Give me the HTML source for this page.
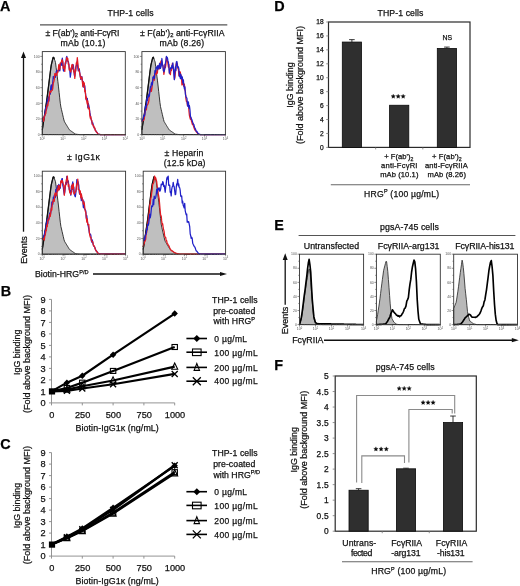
<!DOCTYPE html>
<html><head><meta charset="utf-8"><style>
html,body{margin:0;padding:0;background:#fff;width:520px;height:586px;overflow:hidden;}
svg{will-change:transform;}
svg text{font-family:"Liberation Sans", sans-serif;stroke:#111;stroke-width:0.25px;}
svg text.tiny{stroke:none;}
</style></head><body>
<svg width="520" height="586" viewBox="0 0 520 586" style="position:absolute;left:0;top:0">
<rect width="520" height="586" fill="#fff"/>
<text x="0.10" y="10.50" font-size="14.4" text-anchor="start" font-weight="bold" fill="#000" >A</text>
<text x="0.70" y="296.30" font-size="14.4" text-anchor="start" font-weight="bold" fill="#000" >B</text>
<text x="0.30" y="448.80" font-size="14.4" text-anchor="start" font-weight="bold" fill="#000" >C</text>
<text x="274.30" y="10.90" font-size="14.4" text-anchor="start" font-weight="bold" fill="#000" >D</text>
<text x="274.30" y="229.80" font-size="14.4" text-anchor="start" font-weight="bold" fill="#000" >E</text>
<text x="274.30" y="369.50" font-size="14.4" text-anchor="start" font-weight="bold" fill="#000" >F</text>
<text x="107.48" y="16.10" font-size="8.7" fill="#111" font-weight="normal" textLength="46.04" lengthAdjust="spacing">THP-1 cells</text>
<line x1="40.00" y1="24.80" x2="227.30" y2="24.80" stroke="#555" stroke-width="1.2" />
<text x="45.50" y="35.60" font-size="8.7" fill="#111" textLength="74.00" lengthAdjust="spacing">± F(ab')<tspan font-size="5.8" dy="1.4">2</tspan><tspan dy="-1.4"> anti-Fc&#947;RI</tspan></text>
<text x="140.00" y="35.60" font-size="8.7" fill="#111" textLength="84.50" lengthAdjust="spacing">± F(ab')<tspan font-size="5.8" dy="1.4">2</tspan><tspan dy="-1.4"> anti-Fc&#947;RIIA</tspan></text>
<text x="60.48" y="46.30" font-size="8.7" fill="#111" font-weight="normal" textLength="45.04" lengthAdjust="spacing">mAb (10.1)</text>
<text x="159.48" y="46.30" font-size="8.7" fill="#111" font-weight="normal" textLength="44.74" lengthAdjust="spacing">mAb (8.26)</text>
<text x="66.98" y="159.90" font-size="8.7" fill="#111" font-weight="normal" textLength="32.94" lengthAdjust="spacing">± IgG1&#954;</text>
<text x="164.48" y="155.80" font-size="8.7" fill="#111" font-weight="normal" textLength="38.84" lengthAdjust="spacing">± Heparin</text>
<text x="163.78" y="166.30" font-size="8.7" fill="#111" font-weight="normal" textLength="41.74" lengthAdjust="spacing">(12.5 kDa)</text>
<line x1="23.50" y1="57.60" x2="23.50" y2="231.70" stroke="#111" stroke-width="1.3" />
<path d="M21.00,58.10 L23.50,51.50 L26.00,58.10 Z" fill="#111"/>
<text transform="translate(26.80,249.90) rotate(-90)" font-size="9" text-anchor="middle" fill="#111">Events</text>
<text x="35.0" y="277" font-size="8.7" fill="#111" textLength="53.5" lengthAdjust="spacing">Biotin-HRG<tspan font-size="5.6" dy="-3.2">P/D</tspan></text>
<line x1="93.00" y1="274.00" x2="220.50" y2="274.00" stroke="#111" stroke-width="1.4" />
<path d="M220.00,271.90 L227.00,274.00 L220.00,276.10 Z" fill="#111"/>
<path d="M42.30,129.91 L42.90,125.93 L43.50,121.95 L44.10,117.97 L44.70,114.00 L45.30,110.02 L45.90,106.04 L46.50,102.06 L47.10,97.66 L47.70,92.87 L48.30,88.09 L48.90,83.31 L49.50,78.52 L50.10,73.74 L50.70,68.96 L51.30,64.94 L51.90,62.43 L52.50,59.91 L53.10,57.40 L53.70,57.35 L54.30,58.94 L54.90,60.52 L55.50,62.56 L56.10,67.33 L56.70,72.10 L57.30,76.87 L57.90,81.64 L58.50,86.90 L59.10,92.37 L59.70,97.83 L60.30,103.30 L60.90,107.12 L61.50,109.69 L62.10,112.26 L62.70,114.83 L63.30,117.40 L63.90,119.97 L64.50,121.78 L65.10,122.77 L65.70,123.75 L66.30,124.74 L66.90,125.73 L67.50,126.71 L68.10,127.70 L68.70,128.69 L69.30,129.68 L69.90,130.23 L70.50,130.65 L71.10,131.06 L71.70,131.48 L72.30,131.90 L72.90,132.32 L73.50,132.74 L74.10,133.16 L74.70,133.57 L75.30,133.99 L75.90,134.18 L76.50,134.24 L77.10,134.31 L77.70,134.38 L78.30,134.45 L78.90,134.52 L79.50,134.58 L80.10,134.60 L80.70,134.60 L81.30,134.60 L81.90,134.60 L82.50,134.60 L83.10,134.60 L83.70,134.60 L84.30,134.60 L84.90,134.60 L85.50,134.60 L86.10,134.60 L86.70,134.60 L87.30,134.60 L87.90,134.60 L88.50,134.60 L89.10,134.60 L89.70,134.60 L90.30,134.60 L90.90,134.60 L91.50,134.60 L92.10,134.60 L92.70,134.60 L93.30,134.60 L93.90,134.60 L94.50,134.60 L95.10,134.60 L95.70,134.60 L96.30,134.60 L96.90,134.60 L97.50,134.60 L98.10,134.60 L98.70,134.60 L99.30,134.60 L99.90,134.60 L100.50,134.60 L101.10,134.60 L101.70,134.60 L102.30,134.60 L102.90,134.60 L103.50,134.60 L104.10,134.60 L104.70,134.60 L105.30,134.60 L105.90,134.60 L106.50,134.60 L107.10,134.60 L107.70,134.60 L108.30,134.60 L108.90,134.60 L109.50,134.60 L110.10,134.60 L110.70,134.60 L111.30,134.60 L111.90,134.60 L112.50,134.60 L113.10,134.60 L113.70,134.60 L114.30,134.60 L114.90,134.60 L115.50,134.60 L116.10,134.60 L116.70,134.60 L117.30,134.60 L117.90,134.60 L118.50,134.60 L119.10,134.60 L119.70,134.60 L120.30,134.60 L120.90,134.60 L121.50,134.60 L122.10,134.60 L122.70,134.60 L123.30,134.60 L123.90,134.60 L124.50,134.60 L125.10,134.60 L125.30,134.60 L42.30,134.60 Z" fill="#bfbfbf" stroke="#222" stroke-width="0.9"/>
<path d="M42.30,129.91 L42.90,125.93 L43.50,121.95 L44.10,117.97 L44.70,114.00 L45.30,110.02 L45.90,106.04 L46.50,102.06 L47.10,97.66 L47.70,92.87 L48.30,88.09 L48.90,83.31 L49.50,78.52 L50.10,73.74 L50.70,68.96 L51.30,64.94 L51.90,62.43 L52.50,59.91 L53.10,57.40 L53.70,57.35 L54.30,58.94" fill="none" stroke="#111" stroke-width="1.3" stroke-linejoin="round"/>
<path d="M42.30,122.07 L42.80,118.11 L43.30,117.56 L43.80,119.18 L44.30,116.58 L44.80,114.43 L45.30,110.66 L45.80,107.08 L46.30,110.02 L46.80,108.11 L47.30,99.95 L47.80,101.35 L48.30,97.02 L48.80,101.21 L49.30,95.99 L49.80,92.08 L50.30,94.18 L50.80,86.59 L51.30,84.87 L51.80,89.61 L52.30,87.58 L52.80,81.48 L53.30,76.30 L53.80,78.60 L54.30,78.54 L54.80,75.65 L55.30,77.44 L55.80,74.65 L56.30,71.67 L56.80,70.29 L57.30,71.85 L57.80,71.37 L58.30,70.97 L58.80,68.59 L59.30,69.42 L59.80,70.94 L60.30,63.50 L60.80,64.63 L61.30,62.90 L61.80,65.40 L62.30,58.03 L62.80,61.71 L63.30,70.15 L63.80,71.15 L64.30,69.82 L64.80,67.10 L65.30,62.54 L65.80,63.77 L66.30,57.78 L66.80,56.40 L67.30,60.85 L67.80,61.10 L68.30,61.26 L68.80,63.97 L69.30,68.99 L69.80,70.69 L70.30,77.14 L70.80,73.75 L71.30,67.64 L71.80,68.87 L72.30,68.99 L72.80,64.29 L73.30,65.31 L73.80,69.12 L74.30,75.06 L74.80,76.35 L75.30,72.51 L75.80,67.10 L76.30,65.82 L76.80,63.52 L77.30,61.25 L77.80,67.92 L78.30,70.88 L78.80,68.80 L79.30,68.88 L79.80,73.28 L80.30,76.19 L80.80,79.28 L81.30,78.47 L81.80,76.51 L82.30,79.96 L82.80,83.12 L83.30,81.51 L83.80,87.32 L84.30,86.02 L84.80,85.73 L85.30,91.80 L85.80,95.87 L86.30,99.86 L86.80,99.59 L87.30,98.31 L87.80,107.66 L88.30,103.49 L88.80,105.32 L89.30,107.98 L89.80,112.15 L90.30,114.91 L90.80,118.32 L91.30,119.55 L91.80,121.54 L92.30,124.24 L92.80,122.90 L93.30,125.08 L93.80,127.16 L94.30,127.55 L94.80,128.73 L95.30,130.05 L95.80,131.04 L96.30,131.50 L96.80,132.11 L97.30,132.87 L97.80,133.54 L98.30,134.14 L98.80,134.25 L99.30,134.36 L99.80,134.47 L100.30,134.58 L100.80,134.60 L101.30,134.60 L101.80,134.60 L102.30,134.60 L102.80,134.60 L103.30,134.60 L103.80,134.60 L104.30,134.60 L104.80,134.60 L105.30,134.60 L105.80,134.60 L106.30,134.60 L106.80,134.60 L107.30,134.60 L107.80,134.60 L108.30,134.60 L108.80,134.60 L109.30,134.60 L109.80,134.60 L110.30,134.60 L110.80,134.60 L111.30,134.60 L111.80,134.60 L112.30,134.60 L112.80,134.60 L113.30,134.60 L113.80,134.60 L114.30,134.60 L114.80,134.60 L115.30,134.60 L115.80,134.60 L116.30,134.60 L116.80,134.60 L117.30,134.60 L117.80,134.60 L118.30,134.60 L118.80,134.60 L119.30,134.60 L119.80,134.60 L120.30,134.60 L120.80,134.60 L121.30,134.60 L121.80,134.60 L122.30,134.60 L122.80,134.60 L123.30,134.60 L123.80,134.60 L124.30,134.60 L124.80,134.60 L125.30,134.60" fill="none" stroke="#2020c8" stroke-width="1.25" stroke-linejoin="round"/>
<path d="M42.30,118.60 L42.80,117.92 L43.30,121.31 L43.80,120.63 L44.30,116.34 L44.80,116.13 L45.30,113.92 L45.80,113.77 L46.30,109.29 L46.80,106.81 L47.30,104.58 L47.80,105.82 L48.30,101.94 L48.80,100.48 L49.30,96.15 L49.80,92.27 L50.30,90.87 L50.80,92.29 L51.30,91.19 L51.80,90.50 L52.30,90.25 L52.80,88.25 L53.30,82.76 L53.80,81.83 L54.30,79.28 L54.80,73.68 L55.30,75.26 L55.80,73.70 L56.30,74.95 L56.80,75.33 L57.30,71.77 L57.80,72.61 L58.30,69.06 L58.80,64.62 L59.30,66.52 L59.80,69.69 L60.30,63.06 L60.80,62.75 L61.30,62.17 L61.80,59.76 L62.30,59.82 L62.80,62.25 L63.30,68.33 L63.80,66.08 L64.30,67.94 L64.80,71.40 L65.30,63.97 L65.80,61.47 L66.30,60.66 L66.80,57.33 L67.30,59.39 L67.80,58.46 L68.30,64.24 L68.80,64.08 L69.30,70.17 L69.80,68.39 L70.30,70.38 L70.80,72.04 L71.30,69.44 L71.80,64.91 L72.30,64.69 L72.80,64.77 L73.30,69.07 L73.80,71.86 L74.30,72.52 L74.80,78.49 L75.30,69.39 L75.80,71.09 L76.30,62.76 L76.80,64.17 L77.30,57.59 L77.80,62.63 L78.30,67.28 L78.80,70.25 L79.30,71.48 L79.80,73.32 L80.30,76.83 L80.80,78.98 L81.30,78.39 L81.80,76.88 L82.30,81.11 L82.80,86.75 L83.30,81.82 L83.80,83.46 L84.30,82.94 L84.80,91.68 L85.30,90.50 L85.80,99.00 L86.30,96.86 L86.80,101.74 L87.30,104.02 L87.80,100.86 L88.30,108.79 L88.80,107.66 L89.30,108.21 L89.80,115.27 L90.30,118.14 L90.80,116.57 L91.30,120.17 L91.80,120.37 L92.30,124.33 L92.80,124.50 L93.30,126.20 L93.80,126.00 L94.30,128.44 L94.80,127.90 L95.30,130.52 L95.80,130.61 L96.30,131.97 L96.80,132.38 L97.30,132.87 L97.80,133.54 L98.30,134.14 L98.80,134.25 L99.30,134.36 L99.80,134.47 L100.30,134.58 L100.80,134.60 L101.30,134.60 L101.80,134.60 L102.30,134.60 L102.80,134.60 L103.30,134.60 L103.80,134.60 L104.30,134.60 L104.80,134.60 L105.30,134.60 L105.80,134.60 L106.30,134.60 L106.80,134.60 L107.30,134.60 L107.80,134.60 L108.30,134.60 L108.80,134.60 L109.30,134.60 L109.80,134.60 L110.30,134.60 L110.80,134.60 L111.30,134.60 L111.80,134.60 L112.30,134.60 L112.80,134.60 L113.30,134.60 L113.80,134.60 L114.30,134.60 L114.80,134.60 L115.30,134.60 L115.80,134.60 L116.30,134.60 L116.80,134.60 L117.30,134.60 L117.80,134.60 L118.30,134.60 L118.80,134.60 L119.30,134.60 L119.80,134.60 L120.30,134.60 L120.80,134.60 L121.30,134.60 L121.80,134.60 L122.30,134.60 L122.80,134.60 L123.30,134.60 L123.80,134.60 L124.30,134.60 L124.80,134.60 L125.30,134.60" fill="none" stroke="#e31b23" stroke-width="1.25" stroke-linejoin="round"/>
<rect x="42.30" y="51.60" width="83.00" height="83.00" fill="none" stroke="#333" stroke-width="0.9"/>
<line x1="40.30" y1="134.60" x2="42.30" y2="134.60" stroke="#444" stroke-width="0.6" />
<line x1="41.10" y1="126.78" x2="42.30" y2="126.78" stroke="#444" stroke-width="0.6" />
<line x1="40.30" y1="118.96" x2="42.30" y2="118.96" stroke="#444" stroke-width="0.6" />
<line x1="41.10" y1="111.14" x2="42.30" y2="111.14" stroke="#444" stroke-width="0.6" />
<line x1="40.30" y1="103.32" x2="42.30" y2="103.32" stroke="#444" stroke-width="0.6" />
<line x1="41.10" y1="95.50" x2="42.30" y2="95.50" stroke="#444" stroke-width="0.6" />
<line x1="40.30" y1="87.68" x2="42.30" y2="87.68" stroke="#444" stroke-width="0.6" />
<line x1="41.10" y1="79.86" x2="42.30" y2="79.86" stroke="#444" stroke-width="0.6" />
<line x1="40.30" y1="72.04" x2="42.30" y2="72.04" stroke="#444" stroke-width="0.6" />
<line x1="41.10" y1="64.22" x2="42.30" y2="64.22" stroke="#444" stroke-width="0.6" />
<line x1="40.30" y1="56.40" x2="42.30" y2="56.40" stroke="#444" stroke-width="0.6" />
<text x="39.70" y="135.80" font-size="3.5" text-anchor="end" font-weight="normal" fill="#555" class="tiny">0</text>
<text x="39.70" y="120.16" font-size="3.5" text-anchor="end" font-weight="normal" fill="#555" class="tiny">20</text>
<text x="39.70" y="104.52" font-size="3.5" text-anchor="end" font-weight="normal" fill="#555" class="tiny">40</text>
<text x="39.70" y="88.88" font-size="3.5" text-anchor="end" font-weight="normal" fill="#555" class="tiny">60</text>
<text x="39.70" y="73.24" font-size="3.5" text-anchor="end" font-weight="normal" fill="#555" class="tiny">80</text>
<text x="39.70" y="57.60" font-size="3.5" text-anchor="end" font-weight="normal" fill="#555" class="tiny">100</text>
<line x1="42.30" y1="134.60" x2="42.30" y2="136.60" stroke="#444" stroke-width="0.6" />
<line x1="48.55" y1="134.60" x2="48.55" y2="135.60" stroke="#aaa" stroke-width="0.4" />
<line x1="52.20" y1="134.60" x2="52.20" y2="135.60" stroke="#aaa" stroke-width="0.4" />
<line x1="54.79" y1="134.60" x2="54.79" y2="135.60" stroke="#aaa" stroke-width="0.4" />
<line x1="56.80" y1="134.60" x2="56.80" y2="135.60" stroke="#aaa" stroke-width="0.4" />
<line x1="58.45" y1="134.60" x2="58.45" y2="135.60" stroke="#aaa" stroke-width="0.4" />
<line x1="59.84" y1="134.60" x2="59.84" y2="135.60" stroke="#aaa" stroke-width="0.4" />
<line x1="61.04" y1="134.60" x2="61.04" y2="135.60" stroke="#aaa" stroke-width="0.4" />
<line x1="62.10" y1="134.60" x2="62.10" y2="135.60" stroke="#aaa" stroke-width="0.4" />
<text x="42.30" y="139.90" font-size="3.5" text-anchor="middle" fill="#555" class="tiny">10<tspan font-size="2.6" dy="-1.3">0</tspan></text>
<line x1="63.05" y1="134.60" x2="63.05" y2="136.60" stroke="#444" stroke-width="0.6" />
<line x1="69.30" y1="134.60" x2="69.30" y2="135.60" stroke="#aaa" stroke-width="0.4" />
<line x1="72.95" y1="134.60" x2="72.95" y2="135.60" stroke="#aaa" stroke-width="0.4" />
<line x1="75.54" y1="134.60" x2="75.54" y2="135.60" stroke="#aaa" stroke-width="0.4" />
<line x1="77.55" y1="134.60" x2="77.55" y2="135.60" stroke="#aaa" stroke-width="0.4" />
<line x1="79.20" y1="134.60" x2="79.20" y2="135.60" stroke="#aaa" stroke-width="0.4" />
<line x1="80.59" y1="134.60" x2="80.59" y2="135.60" stroke="#aaa" stroke-width="0.4" />
<line x1="81.79" y1="134.60" x2="81.79" y2="135.60" stroke="#aaa" stroke-width="0.4" />
<line x1="82.85" y1="134.60" x2="82.85" y2="135.60" stroke="#aaa" stroke-width="0.4" />
<text x="63.05" y="139.90" font-size="3.5" text-anchor="middle" fill="#555" class="tiny">10<tspan font-size="2.6" dy="-1.3">1</tspan></text>
<line x1="83.80" y1="134.60" x2="83.80" y2="136.60" stroke="#444" stroke-width="0.6" />
<line x1="90.05" y1="134.60" x2="90.05" y2="135.60" stroke="#aaa" stroke-width="0.4" />
<line x1="93.70" y1="134.60" x2="93.70" y2="135.60" stroke="#aaa" stroke-width="0.4" />
<line x1="96.29" y1="134.60" x2="96.29" y2="135.60" stroke="#aaa" stroke-width="0.4" />
<line x1="98.30" y1="134.60" x2="98.30" y2="135.60" stroke="#aaa" stroke-width="0.4" />
<line x1="99.95" y1="134.60" x2="99.95" y2="135.60" stroke="#aaa" stroke-width="0.4" />
<line x1="101.34" y1="134.60" x2="101.34" y2="135.60" stroke="#aaa" stroke-width="0.4" />
<line x1="102.54" y1="134.60" x2="102.54" y2="135.60" stroke="#aaa" stroke-width="0.4" />
<line x1="103.60" y1="134.60" x2="103.60" y2="135.60" stroke="#aaa" stroke-width="0.4" />
<text x="83.80" y="139.90" font-size="3.5" text-anchor="middle" fill="#555" class="tiny">10<tspan font-size="2.6" dy="-1.3">2</tspan></text>
<line x1="104.55" y1="134.60" x2="104.55" y2="136.60" stroke="#444" stroke-width="0.6" />
<line x1="110.80" y1="134.60" x2="110.80" y2="135.60" stroke="#aaa" stroke-width="0.4" />
<line x1="114.45" y1="134.60" x2="114.45" y2="135.60" stroke="#aaa" stroke-width="0.4" />
<line x1="117.04" y1="134.60" x2="117.04" y2="135.60" stroke="#aaa" stroke-width="0.4" />
<line x1="119.05" y1="134.60" x2="119.05" y2="135.60" stroke="#aaa" stroke-width="0.4" />
<line x1="120.70" y1="134.60" x2="120.70" y2="135.60" stroke="#aaa" stroke-width="0.4" />
<line x1="122.09" y1="134.60" x2="122.09" y2="135.60" stroke="#aaa" stroke-width="0.4" />
<line x1="123.29" y1="134.60" x2="123.29" y2="135.60" stroke="#aaa" stroke-width="0.4" />
<line x1="124.35" y1="134.60" x2="124.35" y2="135.60" stroke="#aaa" stroke-width="0.4" />
<text x="104.55" y="139.90" font-size="3.5" text-anchor="middle" fill="#555" class="tiny">10<tspan font-size="2.6" dy="-1.3">3</tspan></text>
<line x1="125.30" y1="134.60" x2="125.30" y2="136.60" stroke="#444" stroke-width="0.6" />
<text x="125.30" y="139.90" font-size="3.5" text-anchor="middle" fill="#555" class="tiny">10<tspan font-size="2.6" dy="-1.3">4</tspan></text>
<path d="M141.90,129.91 L142.50,125.95 L143.10,122.00 L143.70,118.05 L144.30,114.09 L144.90,110.14 L145.50,106.18 L146.10,102.23 L146.70,97.89 L147.30,93.13 L147.90,88.38 L148.50,83.62 L149.10,78.87 L149.70,74.11 L150.30,69.36 L150.90,65.16 L151.50,62.67 L152.10,60.17 L152.70,57.67 L153.30,57.17 L153.90,58.75 L154.50,60.32 L155.10,61.93 L155.70,66.67 L156.30,71.41 L156.90,76.15 L157.50,80.89 L158.10,86.02 L158.70,91.45 L159.30,96.88 L159.90,102.32 L160.50,106.65 L161.10,109.20 L161.70,111.75 L162.30,114.31 L162.90,116.86 L163.50,119.42 L164.10,121.56 L164.70,122.54 L165.30,123.52 L165.90,124.50 L166.50,125.49 L167.10,126.47 L167.70,127.45 L168.30,128.43 L168.90,129.41 L169.50,130.11 L170.10,130.53 L170.70,130.94 L171.30,131.36 L171.90,131.78 L172.50,132.19 L173.10,132.61 L173.70,133.02 L174.30,133.44 L174.90,133.85 L175.50,134.15 L176.10,134.22 L176.70,134.29 L177.30,134.36 L177.90,134.42 L178.50,134.49 L179.10,134.56 L179.70,134.60 L180.30,134.60 L180.90,134.60 L181.50,134.60 L182.10,134.60 L182.70,134.60 L183.30,134.60 L183.90,134.60 L184.50,134.60 L185.10,134.60 L185.70,134.60 L186.30,134.60 L186.90,134.60 L187.50,134.60 L188.10,134.60 L188.70,134.60 L189.30,134.60 L189.90,134.60 L190.50,134.60 L191.10,134.60 L191.70,134.60 L192.30,134.60 L192.90,134.60 L193.50,134.60 L194.10,134.60 L194.70,134.60 L195.30,134.60 L195.90,134.60 L196.50,134.60 L197.10,134.60 L197.70,134.60 L198.30,134.60 L198.90,134.60 L199.50,134.60 L200.10,134.60 L200.70,134.60 L201.30,134.60 L201.90,134.60 L202.50,134.60 L203.10,134.60 L203.70,134.60 L204.30,134.60 L204.90,134.60 L205.50,134.60 L206.10,134.60 L206.70,134.60 L207.30,134.60 L207.90,134.60 L208.50,134.60 L209.10,134.60 L209.70,134.60 L210.30,134.60 L210.90,134.60 L211.50,134.60 L212.10,134.60 L212.70,134.60 L213.30,134.60 L213.90,134.60 L214.50,134.60 L215.10,134.60 L215.70,134.60 L216.30,134.60 L216.90,134.60 L217.50,134.60 L218.10,134.60 L218.70,134.60 L219.30,134.60 L219.90,134.60 L220.50,134.60 L221.10,134.60 L221.70,134.60 L222.30,134.60 L222.90,134.60 L223.50,134.60 L224.10,134.60 L224.70,134.60 L225.30,134.60 L225.40,134.60 L141.90,134.60 Z" fill="#bfbfbf" stroke="#222" stroke-width="0.9"/>
<path d="M141.90,129.91 L142.50,125.95 L143.10,122.00 L143.70,118.05 L144.30,114.09 L144.90,110.14 L145.50,106.18 L146.10,102.23 L146.70,97.89 L147.30,93.13 L147.90,88.38 L148.50,83.62 L149.10,78.87 L149.70,74.11 L150.30,69.36 L150.90,65.16 L151.50,62.67 L152.10,60.17 L152.70,57.67 L153.30,57.17 L153.90,58.75" fill="none" stroke="#111" stroke-width="1.3" stroke-linejoin="round"/>
<path d="M141.90,121.64 L142.40,121.65 L142.90,119.75 L143.40,120.30 L143.90,120.18 L144.40,117.91 L144.90,112.55 L145.40,110.61 L145.90,108.24 L146.40,109.95 L146.90,105.07 L147.40,105.01 L147.90,104.08 L148.40,102.86 L148.90,100.27 L149.40,92.96 L149.90,91.98 L150.40,90.42 L150.90,88.63 L151.40,91.32 L151.90,88.35 L152.40,83.82 L152.90,80.94 L153.40,77.93 L153.90,75.67 L154.40,80.17 L154.90,74.83 L155.40,73.04 L155.90,73.06 L156.40,74.35 L156.90,70.76 L157.40,73.10 L157.90,65.87 L158.40,65.78 L158.90,67.64 L159.40,68.95 L159.90,63.17 L160.40,64.74 L160.90,61.26 L161.40,60.47 L161.90,62.07 L162.40,64.54 L162.90,65.74 L163.40,69.70 L163.90,74.46 L164.40,71.03 L164.90,64.28 L165.40,67.52 L165.90,64.71 L166.40,57.40 L166.90,60.29 L167.40,60.76 L167.90,63.71 L168.40,67.16 L168.90,64.38 L169.40,72.99 L169.90,73.63 L170.40,74.66 L170.90,69.54 L171.40,70.58 L171.90,68.20 L172.40,63.38 L172.90,66.97 L173.40,68.68 L173.90,69.54 L174.40,79.39 L174.90,77.31 L175.40,72.72 L175.90,65.25 L176.40,63.14 L176.90,62.82 L177.40,64.26 L177.90,68.51 L178.40,69.36 L178.90,75.64 L179.40,71.86 L179.90,71.65 L180.40,72.52 L180.90,75.81 L181.40,75.83 L181.90,84.98 L182.40,84.64 L182.90,80.24 L183.40,82.62 L183.90,86.37 L184.40,84.20 L184.90,89.85 L185.40,91.43 L185.90,98.65 L186.40,101.36 L186.90,101.29 L187.40,105.60 L187.90,105.58 L188.40,102.95 L188.90,110.40 L189.40,115.33 L189.90,117.59 L190.40,119.28 L190.90,117.67 L191.40,120.99 L191.90,122.61 L192.40,124.59 L192.90,123.13 L193.40,125.92 L193.90,127.53 L194.40,128.86 L194.90,129.85 L195.40,130.69 L195.90,130.92 L196.40,132.06 L196.90,132.43 L197.40,133.10 L197.90,133.76 L198.40,134.18 L198.90,134.29 L199.40,134.39 L199.90,134.50 L200.40,134.60 L200.90,134.60 L201.40,134.60 L201.90,134.60 L202.40,134.60 L202.90,134.60 L203.40,134.60 L203.90,134.60 L204.40,134.60 L204.90,134.60 L205.40,134.60 L205.90,134.60 L206.40,134.60 L206.90,134.60 L207.40,134.60 L207.90,134.60 L208.40,134.60 L208.90,134.60 L209.40,134.60 L209.90,134.60 L210.40,134.60 L210.90,134.60 L211.40,134.60 L211.90,134.60 L212.40,134.60 L212.90,134.60 L213.40,134.60 L213.90,134.60 L214.40,134.60 L214.90,134.60 L215.40,134.60 L215.90,134.60 L216.40,134.60 L216.90,134.60 L217.40,134.60 L217.90,134.60 L218.40,134.60 L218.90,134.60 L219.40,134.60 L219.90,134.60 L220.40,134.60 L220.90,134.60 L221.40,134.60 L221.90,134.60 L222.40,134.60 L222.90,134.60 L223.40,134.60 L223.90,134.60 L224.40,134.60 L224.90,134.60 L225.40,134.60" fill="none" stroke="#e31b23" stroke-width="1.25" stroke-linejoin="round"/>
<path d="M141.90,121.63 L142.40,119.39 L142.90,119.27 L143.40,117.19 L143.90,115.09 L144.40,116.16 L144.90,114.43 L145.40,105.93 L145.90,108.04 L146.40,105.92 L146.90,98.22 L147.40,100.59 L147.90,95.98 L148.40,97.06 L148.90,94.04 L149.40,96.12 L149.90,90.59 L150.40,86.72 L150.90,87.36 L151.40,83.60 L151.90,82.09 L152.40,84.79 L152.90,77.30 L153.40,76.65 L153.90,77.64 L154.40,78.47 L154.90,70.67 L155.40,72.46 L155.90,69.26 L156.40,67.23 L156.90,68.05 L157.40,65.96 L157.90,69.61 L158.40,65.96 L158.90,68.28 L159.40,63.97 L159.90,63.40 L160.40,68.46 L160.90,67.10 L161.40,65.41 L161.90,58.50 L162.40,64.37 L162.90,65.52 L163.40,70.72 L163.90,71.75 L164.40,70.40 L164.90,67.89 L165.40,63.28 L165.90,60.50 L166.40,56.40 L166.90,57.15 L167.40,57.67 L167.90,60.69 L168.40,62.09 L168.90,66.93 L169.40,73.24 L169.90,70.13 L170.40,68.70 L170.90,67.42 L171.40,68.29 L171.90,65.40 L172.40,67.57 L172.90,62.97 L173.40,68.56 L173.90,74.38 L174.40,79.68 L174.90,71.11 L175.40,66.77 L175.90,70.54 L176.40,61.70 L176.90,61.47 L177.40,65.67 L177.90,67.60 L178.40,66.94 L178.90,69.14 L179.40,76.66 L179.90,73.25 L180.40,78.74 L180.90,74.51 L181.40,78.96 L181.90,76.45 L182.40,77.45 L182.90,82.95 L183.40,79.98 L183.90,86.26 L184.40,88.97 L184.90,86.88 L185.40,94.45 L185.90,96.27 L186.40,97.75 L186.90,98.08 L187.40,103.54 L187.90,106.33 L188.40,101.78 L188.90,108.01 L189.40,105.59 L189.90,109.31 L190.40,115.62 L190.90,117.79 L191.40,118.90 L191.90,119.79 L192.40,121.44 L192.90,123.01 L193.40,124.22 L193.90,124.54 L194.40,126.83 L194.90,128.12 L195.40,128.76 L195.90,130.60 L196.40,131.31 L196.90,131.36 L197.40,132.43 L197.90,133.09 L198.40,133.76 L198.90,134.19 L199.40,134.33 L199.90,134.47 L200.40,134.60 L200.90,134.60 L201.40,134.60 L201.90,134.60 L202.40,134.60 L202.90,134.60 L203.40,134.60 L203.90,134.60 L204.40,134.60 L204.90,134.60 L205.40,134.60 L205.90,134.60 L206.40,134.60 L206.90,134.60 L207.40,134.60 L207.90,134.60 L208.40,134.60 L208.90,134.60 L209.40,134.60 L209.90,134.60 L210.40,134.60 L210.90,134.60 L211.40,134.60 L211.90,134.60 L212.40,134.60 L212.90,134.60 L213.40,134.60 L213.90,134.60 L214.40,134.60 L214.90,134.60 L215.40,134.60 L215.90,134.60 L216.40,134.60 L216.90,134.60 L217.40,134.60 L217.90,134.60 L218.40,134.60 L218.90,134.60 L219.40,134.60 L219.90,134.60 L220.40,134.60 L220.90,134.60 L221.40,134.60 L221.90,134.60 L222.40,134.60 L222.90,134.60 L223.40,134.60 L223.90,134.60 L224.40,134.60 L224.90,134.60 L225.40,134.60" fill="none" stroke="#2020c8" stroke-width="1.25" stroke-linejoin="round"/>
<rect x="141.90" y="51.60" width="83.50" height="83.00" fill="none" stroke="#333" stroke-width="0.9"/>
<line x1="139.90" y1="134.60" x2="141.90" y2="134.60" stroke="#444" stroke-width="0.6" />
<line x1="140.70" y1="126.78" x2="141.90" y2="126.78" stroke="#444" stroke-width="0.6" />
<line x1="139.90" y1="118.96" x2="141.90" y2="118.96" stroke="#444" stroke-width="0.6" />
<line x1="140.70" y1="111.14" x2="141.90" y2="111.14" stroke="#444" stroke-width="0.6" />
<line x1="139.90" y1="103.32" x2="141.90" y2="103.32" stroke="#444" stroke-width="0.6" />
<line x1="140.70" y1="95.50" x2="141.90" y2="95.50" stroke="#444" stroke-width="0.6" />
<line x1="139.90" y1="87.68" x2="141.90" y2="87.68" stroke="#444" stroke-width="0.6" />
<line x1="140.70" y1="79.86" x2="141.90" y2="79.86" stroke="#444" stroke-width="0.6" />
<line x1="139.90" y1="72.04" x2="141.90" y2="72.04" stroke="#444" stroke-width="0.6" />
<line x1="140.70" y1="64.22" x2="141.90" y2="64.22" stroke="#444" stroke-width="0.6" />
<line x1="139.90" y1="56.40" x2="141.90" y2="56.40" stroke="#444" stroke-width="0.6" />
<text x="139.30" y="135.80" font-size="3.5" text-anchor="end" font-weight="normal" fill="#555" class="tiny">0</text>
<text x="139.30" y="120.16" font-size="3.5" text-anchor="end" font-weight="normal" fill="#555" class="tiny">20</text>
<text x="139.30" y="104.52" font-size="3.5" text-anchor="end" font-weight="normal" fill="#555" class="tiny">40</text>
<text x="139.30" y="88.88" font-size="3.5" text-anchor="end" font-weight="normal" fill="#555" class="tiny">60</text>
<text x="139.30" y="73.24" font-size="3.5" text-anchor="end" font-weight="normal" fill="#555" class="tiny">80</text>
<text x="139.30" y="57.60" font-size="3.5" text-anchor="end" font-weight="normal" fill="#555" class="tiny">100</text>
<line x1="141.90" y1="134.60" x2="141.90" y2="136.60" stroke="#444" stroke-width="0.6" />
<line x1="148.18" y1="134.60" x2="148.18" y2="135.60" stroke="#aaa" stroke-width="0.4" />
<line x1="151.86" y1="134.60" x2="151.86" y2="135.60" stroke="#aaa" stroke-width="0.4" />
<line x1="154.47" y1="134.60" x2="154.47" y2="135.60" stroke="#aaa" stroke-width="0.4" />
<line x1="156.49" y1="134.60" x2="156.49" y2="135.60" stroke="#aaa" stroke-width="0.4" />
<line x1="158.14" y1="134.60" x2="158.14" y2="135.60" stroke="#aaa" stroke-width="0.4" />
<line x1="159.54" y1="134.60" x2="159.54" y2="135.60" stroke="#aaa" stroke-width="0.4" />
<line x1="160.75" y1="134.60" x2="160.75" y2="135.60" stroke="#aaa" stroke-width="0.4" />
<line x1="161.82" y1="134.60" x2="161.82" y2="135.60" stroke="#aaa" stroke-width="0.4" />
<text x="141.90" y="139.90" font-size="3.5" text-anchor="middle" fill="#555" class="tiny">10<tspan font-size="2.6" dy="-1.3">0</tspan></text>
<line x1="162.78" y1="134.60" x2="162.78" y2="136.60" stroke="#444" stroke-width="0.6" />
<line x1="169.06" y1="134.60" x2="169.06" y2="135.60" stroke="#aaa" stroke-width="0.4" />
<line x1="172.73" y1="134.60" x2="172.73" y2="135.60" stroke="#aaa" stroke-width="0.4" />
<line x1="175.34" y1="134.60" x2="175.34" y2="135.60" stroke="#aaa" stroke-width="0.4" />
<line x1="177.37" y1="134.60" x2="177.37" y2="135.60" stroke="#aaa" stroke-width="0.4" />
<line x1="179.02" y1="134.60" x2="179.02" y2="135.60" stroke="#aaa" stroke-width="0.4" />
<line x1="180.42" y1="134.60" x2="180.42" y2="135.60" stroke="#aaa" stroke-width="0.4" />
<line x1="181.63" y1="134.60" x2="181.63" y2="135.60" stroke="#aaa" stroke-width="0.4" />
<line x1="182.69" y1="134.60" x2="182.69" y2="135.60" stroke="#aaa" stroke-width="0.4" />
<text x="162.78" y="139.90" font-size="3.5" text-anchor="middle" fill="#555" class="tiny">10<tspan font-size="2.6" dy="-1.3">1</tspan></text>
<line x1="183.65" y1="134.60" x2="183.65" y2="136.60" stroke="#444" stroke-width="0.6" />
<line x1="189.93" y1="134.60" x2="189.93" y2="135.60" stroke="#aaa" stroke-width="0.4" />
<line x1="193.61" y1="134.60" x2="193.61" y2="135.60" stroke="#aaa" stroke-width="0.4" />
<line x1="196.22" y1="134.60" x2="196.22" y2="135.60" stroke="#aaa" stroke-width="0.4" />
<line x1="198.24" y1="134.60" x2="198.24" y2="135.60" stroke="#aaa" stroke-width="0.4" />
<line x1="199.89" y1="134.60" x2="199.89" y2="135.60" stroke="#aaa" stroke-width="0.4" />
<line x1="201.29" y1="134.60" x2="201.29" y2="135.60" stroke="#aaa" stroke-width="0.4" />
<line x1="202.50" y1="134.60" x2="202.50" y2="135.60" stroke="#aaa" stroke-width="0.4" />
<line x1="203.57" y1="134.60" x2="203.57" y2="135.60" stroke="#aaa" stroke-width="0.4" />
<text x="183.65" y="139.90" font-size="3.5" text-anchor="middle" fill="#555" class="tiny">10<tspan font-size="2.6" dy="-1.3">2</tspan></text>
<line x1="204.53" y1="134.60" x2="204.53" y2="136.60" stroke="#444" stroke-width="0.6" />
<line x1="210.81" y1="134.60" x2="210.81" y2="135.60" stroke="#aaa" stroke-width="0.4" />
<line x1="214.48" y1="134.60" x2="214.48" y2="135.60" stroke="#aaa" stroke-width="0.4" />
<line x1="217.09" y1="134.60" x2="217.09" y2="135.60" stroke="#aaa" stroke-width="0.4" />
<line x1="219.12" y1="134.60" x2="219.12" y2="135.60" stroke="#aaa" stroke-width="0.4" />
<line x1="220.77" y1="134.60" x2="220.77" y2="135.60" stroke="#aaa" stroke-width="0.4" />
<line x1="222.17" y1="134.60" x2="222.17" y2="135.60" stroke="#aaa" stroke-width="0.4" />
<line x1="223.38" y1="134.60" x2="223.38" y2="135.60" stroke="#aaa" stroke-width="0.4" />
<line x1="224.44" y1="134.60" x2="224.44" y2="135.60" stroke="#aaa" stroke-width="0.4" />
<text x="204.53" y="139.90" font-size="3.5" text-anchor="middle" fill="#555" class="tiny">10<tspan font-size="2.6" dy="-1.3">3</tspan></text>
<line x1="225.40" y1="134.60" x2="225.40" y2="136.60" stroke="#444" stroke-width="0.6" />
<text x="225.40" y="139.90" font-size="3.5" text-anchor="middle" fill="#555" class="tiny">10<tspan font-size="2.6" dy="-1.3">4</tspan></text>
<path d="M42.30,249.51 L42.90,245.54 L43.50,241.58 L44.10,237.62 L44.70,233.65 L45.30,229.69 L45.90,225.73 L46.50,221.76 L47.10,217.39 L47.70,212.63 L48.30,207.86 L48.90,203.10 L49.50,198.33 L50.10,193.56 L50.70,188.80 L51.30,184.67 L51.90,182.17 L52.50,179.67 L53.10,177.16 L53.70,176.84 L54.30,178.42 L54.90,180.00 L55.50,181.78 L56.10,186.53 L56.70,191.28 L57.30,196.04 L57.90,200.79 L58.50,205.97 L59.10,211.42 L59.70,216.86 L60.30,222.31 L60.90,226.44 L61.50,229.00 L62.10,231.56 L62.70,234.12 L63.30,236.68 L63.90,239.24 L64.50,241.25 L65.10,242.23 L65.70,243.22 L66.30,244.20 L66.90,245.18 L67.50,246.17 L68.10,247.15 L68.70,248.13 L69.30,249.12 L69.90,249.76 L70.50,250.18 L71.10,250.59 L71.70,251.01 L72.30,251.43 L72.90,251.84 L73.50,252.26 L74.10,252.68 L74.70,253.09 L75.30,253.51 L75.90,253.76 L76.50,253.83 L77.10,253.90 L77.70,253.97 L78.30,254.03 L78.90,254.10 L79.50,254.17 L80.10,254.20 L80.70,254.20 L81.30,254.20 L81.90,254.20 L82.50,254.20 L83.10,254.20 L83.70,254.20 L84.30,254.20 L84.90,254.20 L85.50,254.20 L86.10,254.20 L86.70,254.20 L87.30,254.20 L87.90,254.20 L88.50,254.20 L89.10,254.20 L89.70,254.20 L90.30,254.20 L90.90,254.20 L91.50,254.20 L92.10,254.20 L92.70,254.20 L93.30,254.20 L93.90,254.20 L94.50,254.20 L95.10,254.20 L95.70,254.20 L96.30,254.20 L96.90,254.20 L97.50,254.20 L98.10,254.20 L98.70,254.20 L99.30,254.20 L99.90,254.20 L100.50,254.20 L101.10,254.20 L101.70,254.20 L102.30,254.20 L102.90,254.20 L103.50,254.20 L104.10,254.20 L104.70,254.20 L105.30,254.20 L105.90,254.20 L106.50,254.20 L107.10,254.20 L107.70,254.20 L108.30,254.20 L108.90,254.20 L109.50,254.20 L110.10,254.20 L110.70,254.20 L111.30,254.20 L111.90,254.20 L112.50,254.20 L113.10,254.20 L113.70,254.20 L114.30,254.20 L114.90,254.20 L115.50,254.20 L116.10,254.20 L116.70,254.20 L117.30,254.20 L117.90,254.20 L118.50,254.20 L119.10,254.20 L119.70,254.20 L120.30,254.20 L120.90,254.20 L121.50,254.20 L122.10,254.20 L122.70,254.20 L123.30,254.20 L123.90,254.20 L124.50,254.20 L125.10,254.20 L125.60,254.20 L42.30,254.20 Z" fill="#bfbfbf" stroke="#222" stroke-width="0.9"/>
<path d="M42.30,249.51 L42.90,245.54 L43.50,241.58 L44.10,237.62 L44.70,233.65 L45.30,229.69 L45.90,225.73 L46.50,221.76 L47.10,217.39 L47.70,212.63 L48.30,207.86 L48.90,203.10 L49.50,198.33 L50.10,193.56 L50.70,188.80 L51.30,184.67 L51.90,182.17 L52.50,179.67 L53.10,177.16 L53.70,176.84 L54.30,178.42" fill="none" stroke="#111" stroke-width="1.3" stroke-linejoin="round"/>
<path d="M42.30,239.61 L42.80,238.19 L43.30,237.02 L43.80,235.36 L44.30,234.89 L44.80,231.18 L45.30,234.58 L45.80,229.19 L46.30,223.05 L46.80,222.93 L47.30,219.11 L47.80,223.52 L48.30,218.99 L48.80,218.98 L49.30,214.91 L49.80,212.93 L50.30,215.57 L50.80,212.02 L51.30,209.47 L51.80,202.43 L52.30,201.54 L52.80,204.22 L53.30,197.18 L53.80,200.26 L54.30,195.12 L54.80,197.67 L55.30,197.37 L55.80,189.29 L56.30,193.19 L56.80,192.13 L57.30,185.64 L57.80,186.01 L58.30,190.07 L58.80,184.32 L59.30,187.13 L59.80,185.54 L60.30,188.18 L60.80,181.36 L61.30,182.26 L61.80,179.04 L62.30,178.55 L62.80,185.30 L63.30,187.47 L63.80,191.65 L64.30,194.36 L64.80,192.20 L65.30,187.57 L65.80,182.42 L66.30,184.33 L66.80,176.26 L67.30,179.74 L67.80,182.41 L68.30,180.90 L68.80,185.98 L69.30,189.61 L69.80,190.67 L70.30,191.27 L70.80,195.16 L71.30,186.22 L71.80,191.91 L72.30,184.46 L72.80,181.96 L73.30,189.46 L73.80,187.02 L74.30,193.90 L74.80,195.63 L75.30,196.80 L75.80,193.22 L76.30,188.88 L76.80,179.54 L77.30,182.37 L77.80,181.06 L78.30,182.76 L78.80,185.72 L79.30,193.12 L79.80,194.38 L80.30,194.39 L80.80,193.77 L81.30,200.64 L81.80,197.43 L82.30,198.83 L82.80,199.95 L83.30,207.28 L83.80,201.07 L84.30,208.65 L84.80,209.15 L85.30,210.17 L85.80,210.90 L86.30,218.30 L86.80,215.64 L87.30,220.51 L87.80,224.24 L88.30,226.11 L88.80,229.11 L89.30,232.50 L89.80,234.58 L90.30,234.09 L90.80,235.03 L91.30,240.48 L91.80,242.21 L92.30,239.93 L92.80,243.04 L93.30,244.73 L93.80,246.28 L94.30,246.52 L94.80,247.25 L95.30,249.08 L95.80,250.24 L96.30,251.32 L96.80,251.21 L97.30,252.21 L97.80,252.87 L98.30,253.54 L98.80,253.81 L99.30,253.92 L99.80,254.02 L100.30,254.13 L100.80,254.20 L101.30,254.20 L101.80,254.20 L102.30,254.20 L102.80,254.20 L103.30,254.20 L103.80,254.20 L104.30,254.20 L104.80,254.20 L105.30,254.20 L105.80,254.20 L106.30,254.20 L106.80,254.20 L107.30,254.20 L107.80,254.20 L108.30,254.20 L108.80,254.20 L109.30,254.20 L109.80,254.20 L110.30,254.20 L110.80,254.20 L111.30,254.20 L111.80,254.20 L112.30,254.20 L112.80,254.20 L113.30,254.20 L113.80,254.20 L114.30,254.20 L114.80,254.20 L115.30,254.20 L115.80,254.20 L116.30,254.20 L116.80,254.20 L117.30,254.20 L117.80,254.20 L118.30,254.20 L118.80,254.20 L119.30,254.20 L119.80,254.20 L120.30,254.20 L120.80,254.20 L121.30,254.20 L121.80,254.20 L122.30,254.20 L122.80,254.20 L123.30,254.20 L123.80,254.20 L124.30,254.20 L124.80,254.20 L125.30,254.20" fill="none" stroke="#2020c8" stroke-width="1.25" stroke-linejoin="round"/>
<path d="M42.30,238.89 L42.80,238.08 L43.30,238.94 L43.80,239.39 L44.30,240.11 L44.80,236.15 L45.30,234.75 L45.80,230.44 L46.30,230.67 L46.80,225.21 L47.30,226.68 L47.80,220.46 L48.30,219.28 L48.80,220.00 L49.30,217.28 L49.80,214.41 L50.30,216.49 L50.80,211.92 L51.30,208.10 L51.80,210.26 L52.30,203.99 L52.80,202.85 L53.30,199.55 L53.80,201.47 L54.30,201.31 L54.80,194.11 L55.30,192.80 L55.80,194.33 L56.30,195.80 L56.80,193.71 L57.30,189.01 L57.80,191.08 L58.30,185.29 L58.80,187.50 L59.30,189.90 L59.80,185.72 L60.30,186.97 L60.80,181.43 L61.30,180.55 L61.80,182.58 L62.30,180.50 L62.80,182.18 L63.30,183.99 L63.80,185.31 L64.30,195.28 L64.80,189.89 L65.30,185.22 L65.80,184.76 L66.30,179.75 L66.80,180.86 L67.30,176.00 L67.80,180.73 L68.30,186.38 L68.80,184.55 L69.30,189.64 L69.80,192.89 L70.30,192.99 L70.80,194.53 L71.30,192.21 L71.80,185.32 L72.30,184.87 L72.80,188.47 L73.30,183.52 L73.80,193.05 L74.30,194.16 L74.80,193.08 L75.30,192.02 L75.80,191.19 L76.30,187.35 L76.80,183.97 L77.30,182.91 L77.80,179.15 L78.30,189.61 L78.80,189.78 L79.30,189.98 L79.80,194.04 L80.30,190.82 L80.80,197.92 L81.30,193.83 L81.80,196.30 L82.30,199.82 L82.80,199.72 L83.30,204.07 L83.80,201.96 L84.30,203.13 L84.80,207.78 L85.30,211.26 L85.80,212.56 L86.30,217.76 L86.80,222.19 L87.30,218.93 L87.80,224.60 L88.30,224.77 L88.80,224.36 L89.30,231.80 L89.80,235.41 L90.30,237.32 L90.80,237.07 L91.30,239.56 L91.80,241.35 L92.30,241.93 L92.80,241.74 L93.30,245.18 L93.80,245.83 L94.30,245.89 L94.80,247.66 L95.30,249.37 L95.80,250.18 L96.30,250.90 L96.80,251.83 L97.30,252.21 L97.80,252.87 L98.30,253.54 L98.80,253.81 L99.30,253.92 L99.80,254.02 L100.30,254.13 L100.80,254.20 L101.30,254.20 L101.80,254.20 L102.30,254.20 L102.80,254.20 L103.30,254.20 L103.80,254.20 L104.30,254.20 L104.80,254.20 L105.30,254.20 L105.80,254.20 L106.30,254.20 L106.80,254.20 L107.30,254.20 L107.80,254.20 L108.30,254.20 L108.80,254.20 L109.30,254.20 L109.80,254.20 L110.30,254.20 L110.80,254.20 L111.30,254.20 L111.80,254.20 L112.30,254.20 L112.80,254.20 L113.30,254.20 L113.80,254.20 L114.30,254.20 L114.80,254.20 L115.30,254.20 L115.80,254.20 L116.30,254.20 L116.80,254.20 L117.30,254.20 L117.80,254.20 L118.30,254.20 L118.80,254.20 L119.30,254.20 L119.80,254.20 L120.30,254.20 L120.80,254.20 L121.30,254.20 L121.80,254.20 L122.30,254.20 L122.80,254.20 L123.30,254.20 L123.80,254.20 L124.30,254.20 L124.80,254.20 L125.30,254.20" fill="none" stroke="#e31b23" stroke-width="1.25" stroke-linejoin="round"/>
<rect x="42.30" y="171.20" width="83.30" height="83.00" fill="none" stroke="#333" stroke-width="0.9"/>
<line x1="40.30" y1="254.20" x2="42.30" y2="254.20" stroke="#444" stroke-width="0.6" />
<line x1="41.10" y1="246.38" x2="42.30" y2="246.38" stroke="#444" stroke-width="0.6" />
<line x1="40.30" y1="238.56" x2="42.30" y2="238.56" stroke="#444" stroke-width="0.6" />
<line x1="41.10" y1="230.74" x2="42.30" y2="230.74" stroke="#444" stroke-width="0.6" />
<line x1="40.30" y1="222.92" x2="42.30" y2="222.92" stroke="#444" stroke-width="0.6" />
<line x1="41.10" y1="215.10" x2="42.30" y2="215.10" stroke="#444" stroke-width="0.6" />
<line x1="40.30" y1="207.28" x2="42.30" y2="207.28" stroke="#444" stroke-width="0.6" />
<line x1="41.10" y1="199.46" x2="42.30" y2="199.46" stroke="#444" stroke-width="0.6" />
<line x1="40.30" y1="191.64" x2="42.30" y2="191.64" stroke="#444" stroke-width="0.6" />
<line x1="41.10" y1="183.82" x2="42.30" y2="183.82" stroke="#444" stroke-width="0.6" />
<line x1="40.30" y1="176.00" x2="42.30" y2="176.00" stroke="#444" stroke-width="0.6" />
<text x="39.70" y="255.40" font-size="3.5" text-anchor="end" font-weight="normal" fill="#555" class="tiny">0</text>
<text x="39.70" y="239.76" font-size="3.5" text-anchor="end" font-weight="normal" fill="#555" class="tiny">20</text>
<text x="39.70" y="224.12" font-size="3.5" text-anchor="end" font-weight="normal" fill="#555" class="tiny">40</text>
<text x="39.70" y="208.48" font-size="3.5" text-anchor="end" font-weight="normal" fill="#555" class="tiny">60</text>
<text x="39.70" y="192.84" font-size="3.5" text-anchor="end" font-weight="normal" fill="#555" class="tiny">80</text>
<text x="39.70" y="177.20" font-size="3.5" text-anchor="end" font-weight="normal" fill="#555" class="tiny">100</text>
<line x1="42.30" y1="254.20" x2="42.30" y2="256.20" stroke="#444" stroke-width="0.6" />
<line x1="48.57" y1="254.20" x2="48.57" y2="255.20" stroke="#aaa" stroke-width="0.4" />
<line x1="52.24" y1="254.20" x2="52.24" y2="255.20" stroke="#aaa" stroke-width="0.4" />
<line x1="54.84" y1="254.20" x2="54.84" y2="255.20" stroke="#aaa" stroke-width="0.4" />
<line x1="56.86" y1="254.20" x2="56.86" y2="255.20" stroke="#aaa" stroke-width="0.4" />
<line x1="58.50" y1="254.20" x2="58.50" y2="255.20" stroke="#aaa" stroke-width="0.4" />
<line x1="59.90" y1="254.20" x2="59.90" y2="255.20" stroke="#aaa" stroke-width="0.4" />
<line x1="61.11" y1="254.20" x2="61.11" y2="255.20" stroke="#aaa" stroke-width="0.4" />
<line x1="62.17" y1="254.20" x2="62.17" y2="255.20" stroke="#aaa" stroke-width="0.4" />
<text x="42.30" y="259.50" font-size="3.5" text-anchor="middle" fill="#555" class="tiny">10<tspan font-size="2.6" dy="-1.3">0</tspan></text>
<line x1="63.12" y1="254.20" x2="63.12" y2="256.20" stroke="#444" stroke-width="0.6" />
<line x1="69.39" y1="254.20" x2="69.39" y2="255.20" stroke="#aaa" stroke-width="0.4" />
<line x1="73.06" y1="254.20" x2="73.06" y2="255.20" stroke="#aaa" stroke-width="0.4" />
<line x1="75.66" y1="254.20" x2="75.66" y2="255.20" stroke="#aaa" stroke-width="0.4" />
<line x1="77.68" y1="254.20" x2="77.68" y2="255.20" stroke="#aaa" stroke-width="0.4" />
<line x1="79.33" y1="254.20" x2="79.33" y2="255.20" stroke="#aaa" stroke-width="0.4" />
<line x1="80.72" y1="254.20" x2="80.72" y2="255.20" stroke="#aaa" stroke-width="0.4" />
<line x1="81.93" y1="254.20" x2="81.93" y2="255.20" stroke="#aaa" stroke-width="0.4" />
<line x1="83.00" y1="254.20" x2="83.00" y2="255.20" stroke="#aaa" stroke-width="0.4" />
<text x="63.12" y="259.50" font-size="3.5" text-anchor="middle" fill="#555" class="tiny">10<tspan font-size="2.6" dy="-1.3">1</tspan></text>
<line x1="83.95" y1="254.20" x2="83.95" y2="256.20" stroke="#444" stroke-width="0.6" />
<line x1="90.22" y1="254.20" x2="90.22" y2="255.20" stroke="#aaa" stroke-width="0.4" />
<line x1="93.89" y1="254.20" x2="93.89" y2="255.20" stroke="#aaa" stroke-width="0.4" />
<line x1="96.49" y1="254.20" x2="96.49" y2="255.20" stroke="#aaa" stroke-width="0.4" />
<line x1="98.51" y1="254.20" x2="98.51" y2="255.20" stroke="#aaa" stroke-width="0.4" />
<line x1="100.15" y1="254.20" x2="100.15" y2="255.20" stroke="#aaa" stroke-width="0.4" />
<line x1="101.55" y1="254.20" x2="101.55" y2="255.20" stroke="#aaa" stroke-width="0.4" />
<line x1="102.76" y1="254.20" x2="102.76" y2="255.20" stroke="#aaa" stroke-width="0.4" />
<line x1="103.82" y1="254.20" x2="103.82" y2="255.20" stroke="#aaa" stroke-width="0.4" />
<text x="83.95" y="259.50" font-size="3.5" text-anchor="middle" fill="#555" class="tiny">10<tspan font-size="2.6" dy="-1.3">2</tspan></text>
<line x1="104.77" y1="254.20" x2="104.77" y2="256.20" stroke="#444" stroke-width="0.6" />
<line x1="111.04" y1="254.20" x2="111.04" y2="255.20" stroke="#aaa" stroke-width="0.4" />
<line x1="114.71" y1="254.20" x2="114.71" y2="255.20" stroke="#aaa" stroke-width="0.4" />
<line x1="117.31" y1="254.20" x2="117.31" y2="255.20" stroke="#aaa" stroke-width="0.4" />
<line x1="119.33" y1="254.20" x2="119.33" y2="255.20" stroke="#aaa" stroke-width="0.4" />
<line x1="120.98" y1="254.20" x2="120.98" y2="255.20" stroke="#aaa" stroke-width="0.4" />
<line x1="122.37" y1="254.20" x2="122.37" y2="255.20" stroke="#aaa" stroke-width="0.4" />
<line x1="123.58" y1="254.20" x2="123.58" y2="255.20" stroke="#aaa" stroke-width="0.4" />
<line x1="124.65" y1="254.20" x2="124.65" y2="255.20" stroke="#aaa" stroke-width="0.4" />
<text x="104.77" y="259.50" font-size="3.5" text-anchor="middle" fill="#555" class="tiny">10<tspan font-size="2.6" dy="-1.3">3</tspan></text>
<line x1="125.60" y1="254.20" x2="125.60" y2="256.20" stroke="#444" stroke-width="0.6" />
<text x="125.60" y="259.50" font-size="3.5" text-anchor="middle" fill="#555" class="tiny">10<tspan font-size="2.6" dy="-1.3">4</tspan></text>
<path d="M143.20,249.51 L143.80,245.50 L144.40,241.49 L145.00,237.49 L145.60,233.48 L146.20,229.47 L146.80,225.47 L147.40,221.46 L148.00,216.98 L148.60,212.16 L149.20,207.34 L149.80,202.52 L150.40,197.71 L151.00,192.89 L151.60,188.07 L152.20,184.26 L152.80,181.73 L153.40,179.20 L154.00,176.67 L154.60,177.17 L155.20,178.77 L155.80,180.36 L156.40,182.92 L157.00,187.73 L157.60,192.53 L158.20,197.34 L158.80,202.14 L159.40,207.58 L160.00,213.08 L160.60,218.59 L161.20,224.09 L161.80,227.30 L162.40,229.89 L163.00,232.48 L163.60,235.07 L164.20,237.66 L164.80,240.24 L165.40,241.65 L166.00,242.64 L166.60,243.63 L167.20,244.63 L167.80,245.62 L168.40,246.62 L169.00,247.61 L169.60,248.61 L170.20,249.55 L170.80,249.97 L171.40,250.39 L172.00,250.81 L172.60,251.23 L173.20,251.65 L173.80,252.07 L174.40,252.50 L175.00,252.92 L175.60,253.34 L176.20,253.74 L176.80,253.80 L177.40,253.87 L178.00,253.94 L178.60,254.01 L179.20,254.08 L179.80,254.15 L180.40,254.20 L181.00,254.20 L181.60,254.20 L182.20,254.20 L182.80,254.20 L183.40,254.20 L184.00,254.20 L184.60,254.20 L185.20,254.20 L185.80,254.20 L186.40,254.20 L187.00,254.20 L187.60,254.20 L188.20,254.20 L188.80,254.20 L189.40,254.20 L190.00,254.20 L190.60,254.20 L191.20,254.20 L191.80,254.20 L192.40,254.20 L193.00,254.20 L193.60,254.20 L194.20,254.20 L194.80,254.20 L195.40,254.20 L196.00,254.20 L196.60,254.20 L197.20,254.20 L197.80,254.20 L198.40,254.20 L199.00,254.20 L199.60,254.20 L200.20,254.20 L200.80,254.20 L201.40,254.20 L202.00,254.20 L202.60,254.20 L203.20,254.20 L203.80,254.20 L204.40,254.20 L205.00,254.20 L205.60,254.20 L206.20,254.20 L206.80,254.20 L207.40,254.20 L208.00,254.20 L208.60,254.20 L209.20,254.20 L209.80,254.20 L210.40,254.20 L211.00,254.20 L211.60,254.20 L212.20,254.20 L212.80,254.20 L213.40,254.20 L214.00,254.20 L214.60,254.20 L215.20,254.20 L215.80,254.20 L216.40,254.20 L217.00,254.20 L217.60,254.20 L218.20,254.20 L218.80,254.20 L219.40,254.20 L220.00,254.20 L220.60,254.20 L221.20,254.20 L221.80,254.20 L222.40,254.20 L223.00,254.20 L223.60,254.20 L224.20,254.20 L224.80,254.20 L225.40,254.20 L225.60,254.20 L143.20,254.20 Z" fill="#bfbfbf" stroke="#222" stroke-width="0.9"/>
<path d="M143.20,249.51 L143.80,245.50 L144.40,241.49 L145.00,237.49 L145.60,233.48 L146.20,229.47 L146.80,225.47 L147.40,221.46 L148.00,216.98 L148.60,212.16 L149.20,207.34 L149.80,202.52 L150.40,197.71 L151.00,192.89 L151.60,188.07 L152.20,184.26 L152.80,181.73 L153.40,179.20 L154.00,176.67 L154.60,177.17 L155.20,178.77" fill="none" stroke="#111" stroke-width="1.3" stroke-linejoin="round"/>
<path d="M143.20,246.76 L143.70,244.02 L144.20,243.96 L144.70,241.17 L145.20,241.11 L145.70,239.08 L146.20,233.02 L146.70,232.37 L147.20,226.91 L147.70,224.17 L148.20,220.60 L148.70,216.10 L149.20,212.78 L149.70,205.04 L150.20,203.77 L150.70,198.66 L151.20,196.82 L151.70,192.82 L152.20,189.31 L152.70,184.14 L153.20,183.86 L153.70,182.73 L154.20,179.68 L154.70,176.00 L155.20,179.15 L155.70,177.72 L156.20,180.05 L156.70,181.45 L157.20,186.61 L157.70,188.59 L158.20,193.13 L158.70,196.06 L159.20,198.95 L159.70,204.72 L160.20,211.05 L160.70,215.69 L161.20,215.82 L161.70,220.92 L162.20,224.79 L162.70,223.75 L163.20,227.97 L163.70,229.87 L164.20,231.89 L164.70,236.36 L165.20,237.51 L165.70,237.43 L166.20,240.86 L166.70,240.73 L167.20,243.59 L167.70,243.85 L168.20,244.96 L168.70,245.46 L169.20,246.49 L169.70,247.77 L170.20,248.91 L170.70,249.73 L171.20,250.24 L171.70,250.63 L172.20,251.24 L172.70,251.14 L173.20,251.70 L173.70,252.06 L174.20,252.41 L174.70,252.70 L175.20,252.88 L175.70,253.06 L176.20,253.24 L176.70,253.41 L177.20,253.59 L177.70,253.77 L178.20,253.87 L178.70,253.95 L179.20,254.03 L179.70,254.11 L180.20,254.19 L180.70,254.20 L181.20,254.20 L181.70,254.20 L182.20,254.20 L182.70,254.20 L183.20,254.20 L183.70,254.20 L184.20,254.20 L184.70,254.20 L185.20,254.20 L185.70,254.20 L186.20,254.20 L186.70,254.20 L187.20,254.20 L187.70,254.20 L188.20,254.20 L188.70,254.20 L189.20,254.20 L189.70,254.20 L190.20,254.20 L190.70,254.20 L191.20,254.20 L191.70,254.20 L192.20,254.20 L192.70,254.20 L193.20,254.20 L193.70,254.20 L194.20,254.20 L194.70,254.20 L195.20,254.20 L195.70,254.20 L196.20,254.20 L196.70,254.20 L197.20,254.20 L197.70,254.20 L198.20,254.20 L198.70,254.20 L199.20,254.20 L199.70,254.20 L200.20,254.20 L200.70,254.20 L201.20,254.20 L201.70,254.20 L202.20,254.20 L202.70,254.20 L203.20,254.20 L203.70,254.20 L204.20,254.20 L204.70,254.20 L205.20,254.20 L205.70,254.20 L206.20,254.20 L206.70,254.20 L207.20,254.20 L207.70,254.20 L208.20,254.20 L208.70,254.20 L209.20,254.20 L209.70,254.20 L210.20,254.20 L210.70,254.20 L211.20,254.20 L211.70,254.20 L212.20,254.20 L212.70,254.20 L213.20,254.20 L213.70,254.20 L214.20,254.20 L214.70,254.20 L215.20,254.20 L215.70,254.20 L216.20,254.20 L216.70,254.20 L217.20,254.20 L217.70,254.20 L218.20,254.20 L218.70,254.20 L219.20,254.20 L219.70,254.20 L220.20,254.20 L220.70,254.20 L221.20,254.20 L221.70,254.20 L222.20,254.20 L222.70,254.20 L223.20,254.20 L223.70,254.20 L224.20,254.20 L224.70,254.20 L225.20,254.20" fill="none" stroke="#e31b23" stroke-width="1.25" stroke-linejoin="round"/>
<path d="M143.20,240.87 L143.70,240.83 L144.20,237.68 L144.70,239.67 L145.20,235.89 L145.70,234.46 L146.20,234.24 L146.70,228.69 L147.20,229.92 L147.70,224.38 L148.20,225.41 L148.70,223.48 L149.20,219.11 L149.70,214.20 L150.20,217.93 L150.70,215.39 L151.20,210.46 L151.70,205.92 L152.20,206.73 L152.70,206.06 L153.20,199.45 L153.70,204.63 L154.20,196.20 L154.70,198.64 L155.20,198.48 L155.70,197.39 L156.20,194.61 L156.70,189.35 L157.20,193.02 L157.70,189.11 L158.20,188.16 L158.70,189.75 L159.20,187.88 L159.70,191.17 L160.20,190.70 L160.70,188.83 L161.20,184.05 L161.70,184.95 L162.20,184.77 L162.70,181.57 L163.20,182.60 L163.70,186.48 L164.20,185.30 L164.70,188.72 L165.20,192.25 L165.70,186.85 L166.20,184.42 L166.70,178.87 L167.20,177.19 L167.70,178.99 L168.20,176.06 L168.70,185.28 L169.20,185.42 L169.70,185.17 L170.20,192.28 L170.70,192.01 L171.20,195.98 L171.70,189.29 L172.20,186.75 L172.70,186.47 L173.20,182.33 L173.70,185.96 L174.20,186.59 L174.70,191.00 L175.20,194.72 L175.70,194.26 L176.20,187.93 L176.70,183.79 L177.20,184.15 L177.70,179.34 L178.20,185.77 L178.70,183.86 L179.20,187.37 L179.70,187.76 L180.20,190.47 L180.70,196.03 L181.20,196.59 L181.70,195.98 L182.20,202.84 L182.70,201.21 L183.20,205.25 L183.70,206.55 L184.20,207.91 L184.70,203.27 L185.20,210.55 L185.70,212.79 L186.20,214.83 L186.70,214.05 L187.20,222.16 L187.70,221.21 L188.20,222.35 L188.70,221.67 L189.20,224.10 L189.70,226.70 L190.20,233.80 L190.70,235.76 L191.20,238.29 L191.70,237.26 L192.20,238.55 L192.70,243.15 L193.20,244.34 L193.70,245.35 L194.20,246.41 L194.70,246.91 L195.20,247.86 L195.70,249.54 L196.20,250.89 L196.70,251.06 L197.20,251.76 L197.70,252.33 L198.20,253.01 L198.70,253.68 L199.20,253.83 L199.70,253.94 L200.20,254.05 L200.70,254.16 L201.20,254.20 L201.70,254.20 L202.20,254.20 L202.70,254.20 L203.20,254.20 L203.70,254.20 L204.20,254.20 L204.70,254.20 L205.20,254.20 L205.70,254.20 L206.20,254.20 L206.70,254.20 L207.20,254.20 L207.70,254.20 L208.20,254.20 L208.70,254.20 L209.20,254.20 L209.70,254.20 L210.20,254.20 L210.70,254.20 L211.20,254.20 L211.70,254.20 L212.20,254.20 L212.70,254.20 L213.20,254.20 L213.70,254.20 L214.20,254.20 L214.70,254.20 L215.20,254.20 L215.70,254.20 L216.20,254.20 L216.70,254.20 L217.20,254.20 L217.70,254.20 L218.20,254.20 L218.70,254.20 L219.20,254.20 L219.70,254.20 L220.20,254.20 L220.70,254.20 L221.20,254.20 L221.70,254.20 L222.20,254.20 L222.70,254.20 L223.20,254.20 L223.70,254.20 L224.20,254.20 L224.70,254.20 L225.20,254.20" fill="none" stroke="#2020c8" stroke-width="1.25" stroke-linejoin="round"/>
<rect x="143.20" y="171.20" width="82.40" height="83.00" fill="none" stroke="#333" stroke-width="0.9"/>
<line x1="141.20" y1="254.20" x2="143.20" y2="254.20" stroke="#444" stroke-width="0.6" />
<line x1="142.00" y1="246.38" x2="143.20" y2="246.38" stroke="#444" stroke-width="0.6" />
<line x1="141.20" y1="238.56" x2="143.20" y2="238.56" stroke="#444" stroke-width="0.6" />
<line x1="142.00" y1="230.74" x2="143.20" y2="230.74" stroke="#444" stroke-width="0.6" />
<line x1="141.20" y1="222.92" x2="143.20" y2="222.92" stroke="#444" stroke-width="0.6" />
<line x1="142.00" y1="215.10" x2="143.20" y2="215.10" stroke="#444" stroke-width="0.6" />
<line x1="141.20" y1="207.28" x2="143.20" y2="207.28" stroke="#444" stroke-width="0.6" />
<line x1="142.00" y1="199.46" x2="143.20" y2="199.46" stroke="#444" stroke-width="0.6" />
<line x1="141.20" y1="191.64" x2="143.20" y2="191.64" stroke="#444" stroke-width="0.6" />
<line x1="142.00" y1="183.82" x2="143.20" y2="183.82" stroke="#444" stroke-width="0.6" />
<line x1="141.20" y1="176.00" x2="143.20" y2="176.00" stroke="#444" stroke-width="0.6" />
<text x="140.60" y="255.40" font-size="3.5" text-anchor="end" font-weight="normal" fill="#555" class="tiny">0</text>
<text x="140.60" y="239.76" font-size="3.5" text-anchor="end" font-weight="normal" fill="#555" class="tiny">20</text>
<text x="140.60" y="224.12" font-size="3.5" text-anchor="end" font-weight="normal" fill="#555" class="tiny">40</text>
<text x="140.60" y="208.48" font-size="3.5" text-anchor="end" font-weight="normal" fill="#555" class="tiny">60</text>
<text x="140.60" y="192.84" font-size="3.5" text-anchor="end" font-weight="normal" fill="#555" class="tiny">80</text>
<text x="140.60" y="177.20" font-size="3.5" text-anchor="end" font-weight="normal" fill="#555" class="tiny">100</text>
<line x1="143.20" y1="254.20" x2="143.20" y2="256.20" stroke="#444" stroke-width="0.6" />
<line x1="149.40" y1="254.20" x2="149.40" y2="255.20" stroke="#aaa" stroke-width="0.4" />
<line x1="153.03" y1="254.20" x2="153.03" y2="255.20" stroke="#aaa" stroke-width="0.4" />
<line x1="155.60" y1="254.20" x2="155.60" y2="255.20" stroke="#aaa" stroke-width="0.4" />
<line x1="157.60" y1="254.20" x2="157.60" y2="255.20" stroke="#aaa" stroke-width="0.4" />
<line x1="159.23" y1="254.20" x2="159.23" y2="255.20" stroke="#aaa" stroke-width="0.4" />
<line x1="160.61" y1="254.20" x2="160.61" y2="255.20" stroke="#aaa" stroke-width="0.4" />
<line x1="161.80" y1="254.20" x2="161.80" y2="255.20" stroke="#aaa" stroke-width="0.4" />
<line x1="162.86" y1="254.20" x2="162.86" y2="255.20" stroke="#aaa" stroke-width="0.4" />
<text x="143.20" y="259.50" font-size="3.5" text-anchor="middle" fill="#555" class="tiny">10<tspan font-size="2.6" dy="-1.3">0</tspan></text>
<line x1="163.80" y1="254.20" x2="163.80" y2="256.20" stroke="#444" stroke-width="0.6" />
<line x1="170.00" y1="254.20" x2="170.00" y2="255.20" stroke="#aaa" stroke-width="0.4" />
<line x1="173.63" y1="254.20" x2="173.63" y2="255.20" stroke="#aaa" stroke-width="0.4" />
<line x1="176.20" y1="254.20" x2="176.20" y2="255.20" stroke="#aaa" stroke-width="0.4" />
<line x1="178.20" y1="254.20" x2="178.20" y2="255.20" stroke="#aaa" stroke-width="0.4" />
<line x1="179.83" y1="254.20" x2="179.83" y2="255.20" stroke="#aaa" stroke-width="0.4" />
<line x1="181.21" y1="254.20" x2="181.21" y2="255.20" stroke="#aaa" stroke-width="0.4" />
<line x1="182.40" y1="254.20" x2="182.40" y2="255.20" stroke="#aaa" stroke-width="0.4" />
<line x1="183.46" y1="254.20" x2="183.46" y2="255.20" stroke="#aaa" stroke-width="0.4" />
<text x="163.80" y="259.50" font-size="3.5" text-anchor="middle" fill="#555" class="tiny">10<tspan font-size="2.6" dy="-1.3">1</tspan></text>
<line x1="184.40" y1="254.20" x2="184.40" y2="256.20" stroke="#444" stroke-width="0.6" />
<line x1="190.60" y1="254.20" x2="190.60" y2="255.20" stroke="#aaa" stroke-width="0.4" />
<line x1="194.23" y1="254.20" x2="194.23" y2="255.20" stroke="#aaa" stroke-width="0.4" />
<line x1="196.80" y1="254.20" x2="196.80" y2="255.20" stroke="#aaa" stroke-width="0.4" />
<line x1="198.80" y1="254.20" x2="198.80" y2="255.20" stroke="#aaa" stroke-width="0.4" />
<line x1="200.43" y1="254.20" x2="200.43" y2="255.20" stroke="#aaa" stroke-width="0.4" />
<line x1="201.81" y1="254.20" x2="201.81" y2="255.20" stroke="#aaa" stroke-width="0.4" />
<line x1="203.00" y1="254.20" x2="203.00" y2="255.20" stroke="#aaa" stroke-width="0.4" />
<line x1="204.06" y1="254.20" x2="204.06" y2="255.20" stroke="#aaa" stroke-width="0.4" />
<text x="184.40" y="259.50" font-size="3.5" text-anchor="middle" fill="#555" class="tiny">10<tspan font-size="2.6" dy="-1.3">2</tspan></text>
<line x1="205.00" y1="254.20" x2="205.00" y2="256.20" stroke="#444" stroke-width="0.6" />
<line x1="211.20" y1="254.20" x2="211.20" y2="255.20" stroke="#aaa" stroke-width="0.4" />
<line x1="214.83" y1="254.20" x2="214.83" y2="255.20" stroke="#aaa" stroke-width="0.4" />
<line x1="217.40" y1="254.20" x2="217.40" y2="255.20" stroke="#aaa" stroke-width="0.4" />
<line x1="219.40" y1="254.20" x2="219.40" y2="255.20" stroke="#aaa" stroke-width="0.4" />
<line x1="221.03" y1="254.20" x2="221.03" y2="255.20" stroke="#aaa" stroke-width="0.4" />
<line x1="222.41" y1="254.20" x2="222.41" y2="255.20" stroke="#aaa" stroke-width="0.4" />
<line x1="223.60" y1="254.20" x2="223.60" y2="255.20" stroke="#aaa" stroke-width="0.4" />
<line x1="224.66" y1="254.20" x2="224.66" y2="255.20" stroke="#aaa" stroke-width="0.4" />
<text x="205.00" y="259.50" font-size="3.5" text-anchor="middle" fill="#555" class="tiny">10<tspan font-size="2.6" dy="-1.3">3</tspan></text>
<line x1="225.60" y1="254.20" x2="225.60" y2="256.20" stroke="#444" stroke-width="0.6" />
<text x="225.60" y="259.50" font-size="3.5" text-anchor="middle" fill="#555" class="tiny">10<tspan font-size="2.6" dy="-1.3">4</tspan></text>
<line x1="51.50" y1="299.40" x2="51.50" y2="402.90" stroke="#888" stroke-width="0.9" />
<line x1="51.50" y1="402.90" x2="174.70" y2="402.90" stroke="#888" stroke-width="0.9" />
<line x1="49.00" y1="402.90" x2="51.50" y2="402.90" stroke="#888" stroke-width="0.9" />
<text x="45.50" y="406.20" font-size="9.2" text-anchor="end" font-weight="normal" fill="#111" >0</text>
<line x1="49.00" y1="391.40" x2="51.50" y2="391.40" stroke="#888" stroke-width="0.9" />
<text x="45.50" y="394.70" font-size="9.2" text-anchor="end" font-weight="normal" fill="#111" >1</text>
<line x1="49.00" y1="379.90" x2="51.50" y2="379.90" stroke="#888" stroke-width="0.9" />
<text x="45.50" y="383.20" font-size="9.2" text-anchor="end" font-weight="normal" fill="#111" >2</text>
<line x1="49.00" y1="368.40" x2="51.50" y2="368.40" stroke="#888" stroke-width="0.9" />
<text x="45.50" y="371.70" font-size="9.2" text-anchor="end" font-weight="normal" fill="#111" >3</text>
<line x1="49.00" y1="356.90" x2="51.50" y2="356.90" stroke="#888" stroke-width="0.9" />
<text x="45.50" y="360.20" font-size="9.2" text-anchor="end" font-weight="normal" fill="#111" >4</text>
<line x1="49.00" y1="345.40" x2="51.50" y2="345.40" stroke="#888" stroke-width="0.9" />
<text x="45.50" y="348.70" font-size="9.2" text-anchor="end" font-weight="normal" fill="#111" >5</text>
<line x1="49.00" y1="333.90" x2="51.50" y2="333.90" stroke="#888" stroke-width="0.9" />
<text x="45.50" y="337.20" font-size="9.2" text-anchor="end" font-weight="normal" fill="#111" >6</text>
<line x1="49.00" y1="322.40" x2="51.50" y2="322.40" stroke="#888" stroke-width="0.9" />
<text x="45.50" y="325.70" font-size="9.2" text-anchor="end" font-weight="normal" fill="#111" >7</text>
<line x1="49.00" y1="310.90" x2="51.50" y2="310.90" stroke="#888" stroke-width="0.9" />
<text x="45.50" y="314.20" font-size="9.2" text-anchor="end" font-weight="normal" fill="#111" >8</text>
<line x1="49.00" y1="299.40" x2="51.50" y2="299.40" stroke="#888" stroke-width="0.9" />
<text x="45.50" y="302.70" font-size="9.2" text-anchor="end" font-weight="normal" fill="#111" >9</text>
<line x1="51.50" y1="402.90" x2="51.50" y2="405.40" stroke="#888" stroke-width="0.9" />
<text x="51.80" y="418.20" font-size="9.2" text-anchor="middle" font-weight="normal" fill="#111" >0</text>
<line x1="82.30" y1="402.90" x2="82.30" y2="405.40" stroke="#888" stroke-width="0.9" />
<text x="82.60" y="418.20" font-size="9.2" text-anchor="middle" font-weight="normal" fill="#111" >250</text>
<line x1="113.10" y1="402.90" x2="113.10" y2="405.40" stroke="#888" stroke-width="0.9" />
<text x="113.40" y="418.20" font-size="9.2" text-anchor="middle" font-weight="normal" fill="#111" >500</text>
<line x1="143.90" y1="402.90" x2="143.90" y2="405.40" stroke="#888" stroke-width="0.9" />
<text x="144.20" y="418.20" font-size="9.2" text-anchor="middle" font-weight="normal" fill="#111" >750</text>
<line x1="174.70" y1="402.90" x2="174.70" y2="405.40" stroke="#888" stroke-width="0.9" />
<text x="175.00" y="418.20" font-size="9.2" text-anchor="middle" font-weight="normal" fill="#111" >1000</text>
<text x="75.47" y="431.00" font-size="8.9" fill="#111" font-weight="normal" textLength="83.37" lengthAdjust="spacing">Biotin-IgG1&#954; (ng/mL)</text>
<text transform="translate(20.20,352.30) rotate(-90)" font-size="8.9" text-anchor="middle" fill="#111">IgG binding</text>
<text transform="translate(30.40,354.00) rotate(-90)" font-size="9.0" text-anchor="middle" fill="#111">(Fold above background MFI)</text>
<polyline points="51.50,391.40 66.90,382.66 82.30,375.76 113.10,354.71 174.70,313.54" fill="none" stroke="#000" stroke-width="2.2" stroke-linejoin="round"/>
<polyline points="51.50,391.40 66.90,387.95 82.30,382.66 113.10,370.93 174.70,347.01" fill="none" stroke="#000" stroke-width="2.2" stroke-linejoin="round"/>
<polyline points="51.50,391.40 66.90,389.67 82.30,386.22 113.10,380.47 174.70,366.67" fill="none" stroke="#000" stroke-width="2.2" stroke-linejoin="round"/>
<polyline points="51.50,391.40 66.90,390.82 82.30,388.52 113.10,384.27 174.70,373.92" fill="none" stroke="#000" stroke-width="2.2" stroke-linejoin="round"/>
<path d="M66.90,379.46 L70.10,382.66 L66.90,385.86 L63.70,382.66 Z" fill="#000"/>
<path d="M82.30,372.56 L85.50,375.76 L82.30,378.96 L79.10,375.76 Z" fill="#000"/>
<path d="M113.10,351.51 L116.30,354.71 L113.10,357.91 L109.90,354.71 Z" fill="#000"/>
<path d="M174.70,310.34 L177.90,313.54 L174.70,316.74 L171.50,313.54 Z" fill="#000"/>
<rect x="64.20" y="385.45" width="5.4" height="5.0" fill="none" stroke="#000" stroke-width="1.1"/>
<rect x="79.60" y="380.16" width="5.4" height="5.0" fill="none" stroke="#000" stroke-width="1.1"/>
<rect x="110.40" y="368.43" width="5.4" height="5.0" fill="none" stroke="#000" stroke-width="1.1"/>
<rect x="172.00" y="344.51" width="5.4" height="5.0" fill="none" stroke="#000" stroke-width="1.1"/>
<path d="M66.90,386.07 L69.90,392.27 L63.90,392.27 Z" fill="none" stroke="#000" stroke-width="1.1"/>
<path d="M82.30,382.62 L85.30,388.82 L79.30,388.82 Z" fill="none" stroke="#000" stroke-width="1.1"/>
<path d="M113.10,376.87 L116.10,383.07 L110.10,383.07 Z" fill="none" stroke="#000" stroke-width="1.1"/>
<path d="M174.70,363.07 L177.70,369.27 L171.70,369.27 Z" fill="none" stroke="#000" stroke-width="1.1"/>
<path d="M63.90,387.82 L69.90,393.82 M69.90,387.82 L63.90,393.82" stroke="#000" stroke-width="1.3"/>
<path d="M79.30,385.52 L85.30,391.52 M85.30,385.52 L79.30,391.52" stroke="#000" stroke-width="1.3"/>
<path d="M110.10,381.27 L116.10,387.27 M116.10,381.27 L110.10,387.27" stroke="#000" stroke-width="1.3"/>
<path d="M171.70,370.92 L177.70,376.92 M177.70,370.92 L171.70,376.92" stroke="#000" stroke-width="1.3"/>
<rect x="48.90" y="388.30" width="6.2" height="6.2" fill="#000"/>
<text x="212.08" y="303.10" font-size="8.7" fill="#111" font-weight="normal" textLength="45.44" lengthAdjust="spacing">THP-1 cells</text>
<text x="213.18" y="313.70" font-size="8.7" fill="#111" font-weight="normal" textLength="42.04" lengthAdjust="spacing">pre-coated</text>
<text x="213.5" y="324.30" font-size="8.7" fill="#111" textLength="41.60" lengthAdjust="spacing">with HRG<tspan font-size="5.6" dy="-3.2">P</tspan></text>
<line x1="186.40" y1="338.50" x2="207.00" y2="338.50" stroke="#000" stroke-width="1.6" />
<path d="M196.80,335.00 L200.30,338.50 L196.80,342.00 L193.30,338.50 Z" fill="#000"/>
<text x="214.29" y="342.10" font-size="8.5" fill="#111" font-weight="normal" textLength="32.72" lengthAdjust="spacing">0 &#181;g/mL</text>
<line x1="186.40" y1="352.20" x2="207.00" y2="352.20" stroke="#000" stroke-width="1.6" />
<rect x="192.50" y="349.00" width="8.6" height="6.6" fill="none" stroke="#000" stroke-width="1.1"/>
<text x="214.29" y="356.00" font-size="8.5" fill="#111" font-weight="normal" textLength="43.32" lengthAdjust="spacing">100 &#181;g/mL</text>
<line x1="186.40" y1="367.40" x2="207.00" y2="367.40" stroke="#000" stroke-width="1.6" />
<path d="M196.80,363.50 L199.50,370.40 L194.10,370.40 Z" fill="none" stroke="#000" stroke-width="1.1"/>
<text x="214.29" y="370.50" font-size="8.5" fill="#111" font-weight="normal" textLength="43.32" lengthAdjust="spacing">200 &#181;g/mL</text>
<line x1="186.40" y1="381.20" x2="207.00" y2="381.20" stroke="#000" stroke-width="1.6" />
<path d="M192.80,377.20 L200.80,385.20 M200.80,377.20 L192.80,385.20" stroke="#000" stroke-width="1.3"/>
<text x="214.29" y="384.40" font-size="8.5" fill="#111" font-weight="normal" textLength="43.32" lengthAdjust="spacing">400 &#181;g/mL</text>
<line x1="51.50" y1="452.60" x2="51.50" y2="556.10" stroke="#888" stroke-width="0.9" />
<line x1="51.50" y1="556.10" x2="174.70" y2="556.10" stroke="#888" stroke-width="0.9" />
<line x1="49.00" y1="556.10" x2="51.50" y2="556.10" stroke="#888" stroke-width="0.9" />
<text x="45.50" y="559.40" font-size="9.2" text-anchor="end" font-weight="normal" fill="#111" >0</text>
<line x1="49.00" y1="544.60" x2="51.50" y2="544.60" stroke="#888" stroke-width="0.9" />
<text x="45.50" y="547.90" font-size="9.2" text-anchor="end" font-weight="normal" fill="#111" >1</text>
<line x1="49.00" y1="533.10" x2="51.50" y2="533.10" stroke="#888" stroke-width="0.9" />
<text x="45.50" y="536.40" font-size="9.2" text-anchor="end" font-weight="normal" fill="#111" >2</text>
<line x1="49.00" y1="521.60" x2="51.50" y2="521.60" stroke="#888" stroke-width="0.9" />
<text x="45.50" y="524.90" font-size="9.2" text-anchor="end" font-weight="normal" fill="#111" >3</text>
<line x1="49.00" y1="510.10" x2="51.50" y2="510.10" stroke="#888" stroke-width="0.9" />
<text x="45.50" y="513.40" font-size="9.2" text-anchor="end" font-weight="normal" fill="#111" >4</text>
<line x1="49.00" y1="498.60" x2="51.50" y2="498.60" stroke="#888" stroke-width="0.9" />
<text x="45.50" y="501.90" font-size="9.2" text-anchor="end" font-weight="normal" fill="#111" >5</text>
<line x1="49.00" y1="487.10" x2="51.50" y2="487.10" stroke="#888" stroke-width="0.9" />
<text x="45.50" y="490.40" font-size="9.2" text-anchor="end" font-weight="normal" fill="#111" >6</text>
<line x1="49.00" y1="475.60" x2="51.50" y2="475.60" stroke="#888" stroke-width="0.9" />
<text x="45.50" y="478.90" font-size="9.2" text-anchor="end" font-weight="normal" fill="#111" >7</text>
<line x1="49.00" y1="464.10" x2="51.50" y2="464.10" stroke="#888" stroke-width="0.9" />
<text x="45.50" y="467.40" font-size="9.2" text-anchor="end" font-weight="normal" fill="#111" >8</text>
<line x1="49.00" y1="452.60" x2="51.50" y2="452.60" stroke="#888" stroke-width="0.9" />
<text x="45.50" y="455.90" font-size="9.2" text-anchor="end" font-weight="normal" fill="#111" >9</text>
<line x1="51.50" y1="556.10" x2="51.50" y2="558.60" stroke="#888" stroke-width="0.9" />
<text x="51.80" y="571.40" font-size="9.2" text-anchor="middle" font-weight="normal" fill="#111" >0</text>
<line x1="82.30" y1="556.10" x2="82.30" y2="558.60" stroke="#888" stroke-width="0.9" />
<text x="82.60" y="571.40" font-size="9.2" text-anchor="middle" font-weight="normal" fill="#111" >250</text>
<line x1="113.10" y1="556.10" x2="113.10" y2="558.60" stroke="#888" stroke-width="0.9" />
<text x="113.40" y="571.40" font-size="9.2" text-anchor="middle" font-weight="normal" fill="#111" >500</text>
<line x1="143.90" y1="556.10" x2="143.90" y2="558.60" stroke="#888" stroke-width="0.9" />
<text x="144.20" y="571.40" font-size="9.2" text-anchor="middle" font-weight="normal" fill="#111" >750</text>
<line x1="174.70" y1="556.10" x2="174.70" y2="558.60" stroke="#888" stroke-width="0.9" />
<text x="175.00" y="571.40" font-size="9.2" text-anchor="middle" font-weight="normal" fill="#111" >1000</text>
<text x="75.47" y="584.20" font-size="8.9" fill="#111" font-weight="normal" textLength="83.37" lengthAdjust="spacing">Biotin-IgG1&#954; (ng/mL)</text>
<text transform="translate(20.20,505.50) rotate(-90)" font-size="8.9" text-anchor="middle" fill="#111">IgG binding</text>
<text transform="translate(30.40,505.10) rotate(-90)" font-size="9.0" text-anchor="middle" fill="#111">(Fold above background MFI)</text>
<polyline points="51.50,544.60 66.90,536.78 82.30,528.50 113.10,507.80 174.70,465.82" fill="none" stroke="#000" stroke-width="2.2" stroke-linejoin="round"/>
<polyline points="51.50,544.60 66.90,537.93 82.30,530.57 113.10,512.63 174.70,472.15" fill="none" stroke="#000" stroke-width="2.2" stroke-linejoin="round"/>
<polyline points="51.50,544.60 66.90,538.16 82.30,531.03 113.10,513.55 174.70,473.30" fill="none" stroke="#000" stroke-width="2.2" stroke-linejoin="round"/>
<polyline points="51.50,544.60 66.90,537.24 82.30,529.30 113.10,509.87 174.70,465.25" fill="none" stroke="#000" stroke-width="2.2" stroke-linejoin="round"/>
<path d="M66.90,533.58 L70.10,536.78 L66.90,539.98 L63.70,536.78 Z" fill="#000"/>
<path d="M82.30,525.30 L85.50,528.50 L82.30,531.70 L79.10,528.50 Z" fill="#000"/>
<path d="M113.10,504.60 L116.30,507.80 L113.10,511.00 L109.90,507.80 Z" fill="#000"/>
<path d="M174.70,462.62 L177.90,465.82 L174.70,469.02 L171.50,465.82 Z" fill="#000"/>
<rect x="64.20" y="535.43" width="5.4" height="5.0" fill="none" stroke="#000" stroke-width="1.1"/>
<rect x="79.60" y="528.07" width="5.4" height="5.0" fill="none" stroke="#000" stroke-width="1.1"/>
<rect x="110.40" y="510.13" width="5.4" height="5.0" fill="none" stroke="#000" stroke-width="1.1"/>
<rect x="172.00" y="469.65" width="5.4" height="5.0" fill="none" stroke="#000" stroke-width="1.1"/>
<path d="M66.90,534.56 L69.90,540.76 L63.90,540.76 Z" fill="none" stroke="#000" stroke-width="1.1"/>
<path d="M82.30,527.43 L85.30,533.63 L79.30,533.63 Z" fill="none" stroke="#000" stroke-width="1.1"/>
<path d="M113.10,509.95 L116.10,516.15 L110.10,516.15 Z" fill="none" stroke="#000" stroke-width="1.1"/>
<path d="M174.70,469.70 L177.70,475.90 L171.70,475.90 Z" fill="none" stroke="#000" stroke-width="1.1"/>
<path d="M63.90,534.24 L69.90,540.24 M69.90,534.24 L63.90,540.24" stroke="#000" stroke-width="1.3"/>
<path d="M79.30,526.30 L85.30,532.30 M85.30,526.30 L79.30,532.30" stroke="#000" stroke-width="1.3"/>
<path d="M110.10,506.87 L116.10,512.87 M116.10,506.87 L110.10,512.87" stroke="#000" stroke-width="1.3"/>
<path d="M171.70,462.25 L177.70,468.25 M177.70,462.25 L171.70,468.25" stroke="#000" stroke-width="1.3"/>
<rect x="48.90" y="541.50" width="6.2" height="6.2" fill="#000"/>
<text x="212.08" y="456.30" font-size="8.7" fill="#111" font-weight="normal" textLength="45.44" lengthAdjust="spacing">THP-1 cells</text>
<text x="213.18" y="466.90" font-size="8.7" fill="#111" font-weight="normal" textLength="42.04" lengthAdjust="spacing">pre-coated</text>
<text x="213.5" y="477.50" font-size="8.7" fill="#111" textLength="46.50" lengthAdjust="spacing">with HRG<tspan font-size="5.6" dy="-3.2">P/D</tspan></text>
<line x1="186.40" y1="491.70" x2="207.00" y2="491.70" stroke="#000" stroke-width="1.6" />
<path d="M196.80,488.20 L200.30,491.70 L196.80,495.20 L193.30,491.70 Z" fill="#000"/>
<text x="214.29" y="495.30" font-size="8.5" fill="#111" font-weight="normal" textLength="32.72" lengthAdjust="spacing">0 &#181;g/mL</text>
<line x1="186.40" y1="505.40" x2="207.00" y2="505.40" stroke="#000" stroke-width="1.6" />
<rect x="192.50" y="502.20" width="8.6" height="6.6" fill="none" stroke="#000" stroke-width="1.1"/>
<text x="214.29" y="509.20" font-size="8.5" fill="#111" font-weight="normal" textLength="43.32" lengthAdjust="spacing">100 &#181;g/mL</text>
<line x1="186.40" y1="520.60" x2="207.00" y2="520.60" stroke="#000" stroke-width="1.6" />
<path d="M196.80,516.70 L199.50,523.60 L194.10,523.60 Z" fill="none" stroke="#000" stroke-width="1.1"/>
<text x="214.29" y="523.70" font-size="8.5" fill="#111" font-weight="normal" textLength="43.32" lengthAdjust="spacing">200 &#181;g/mL</text>
<line x1="186.40" y1="534.40" x2="207.00" y2="534.40" stroke="#000" stroke-width="1.6" />
<path d="M192.80,530.40 L200.80,538.40 M200.80,530.40 L192.80,538.40" stroke="#000" stroke-width="1.3"/>
<text x="214.29" y="537.60" font-size="8.5" fill="#111" font-weight="normal" textLength="43.32" lengthAdjust="spacing">400 &#181;g/mL</text>
<text x="377.58" y="15.80" font-size="8.7" fill="#111" font-weight="normal" textLength="45.84" lengthAdjust="spacing">THP-1 cells</text>
<rect x="328.50" y="22.00" width="141.50" height="125.40" fill="none" stroke="#2a2a2a" stroke-width="1.2"/>
<line x1="326.20" y1="147.40" x2="328.50" y2="147.40" stroke="#777" stroke-width="0.8" />
<text x="323.60" y="149.80" font-size="6.6" text-anchor="end" font-weight="normal" fill="#111" >0</text>
<line x1="326.20" y1="133.47" x2="328.50" y2="133.47" stroke="#777" stroke-width="0.8" />
<text x="323.60" y="135.87" font-size="6.6" text-anchor="end" font-weight="normal" fill="#111" >2</text>
<line x1="326.20" y1="119.53" x2="328.50" y2="119.53" stroke="#777" stroke-width="0.8" />
<text x="323.60" y="121.93" font-size="6.6" text-anchor="end" font-weight="normal" fill="#111" >4</text>
<line x1="326.20" y1="105.60" x2="328.50" y2="105.60" stroke="#777" stroke-width="0.8" />
<text x="323.60" y="108.00" font-size="6.6" text-anchor="end" font-weight="normal" fill="#111" >6</text>
<line x1="326.20" y1="91.67" x2="328.50" y2="91.67" stroke="#777" stroke-width="0.8" />
<text x="323.60" y="94.07" font-size="6.6" text-anchor="end" font-weight="normal" fill="#111" >8</text>
<line x1="326.20" y1="77.73" x2="328.50" y2="77.73" stroke="#777" stroke-width="0.8" />
<text x="323.60" y="80.13" font-size="6.6" text-anchor="end" font-weight="normal" fill="#111" >10</text>
<line x1="326.20" y1="63.80" x2="328.50" y2="63.80" stroke="#777" stroke-width="0.8" />
<text x="323.60" y="66.20" font-size="6.6" text-anchor="end" font-weight="normal" fill="#111" >12</text>
<line x1="326.20" y1="49.87" x2="328.50" y2="49.87" stroke="#777" stroke-width="0.8" />
<text x="323.60" y="52.27" font-size="6.6" text-anchor="end" font-weight="normal" fill="#111" >14</text>
<line x1="326.20" y1="35.93" x2="328.50" y2="35.93" stroke="#777" stroke-width="0.8" />
<text x="323.60" y="38.33" font-size="6.6" text-anchor="end" font-weight="normal" fill="#111" >16</text>
<line x1="326.20" y1="22.00" x2="328.50" y2="22.00" stroke="#777" stroke-width="0.8" />
<text x="323.60" y="24.40" font-size="6.6" text-anchor="end" font-weight="normal" fill="#111" >18</text>
<line x1="375.67" y1="147.40" x2="375.67" y2="149.40" stroke="#777" stroke-width="0.8" />
<line x1="422.83" y1="147.40" x2="422.83" y2="149.40" stroke="#777" stroke-width="0.8" />
<rect x="342.30" y="42.06" width="19.2" height="105.34" fill="#2f2f2f" stroke="#0a0a0a" stroke-width="0.8"/>
<line x1="351.90" y1="39.63" x2="351.90" y2="42.06" stroke="#222" stroke-width="0.9" />
<line x1="349.10" y1="39.63" x2="354.70" y2="39.63" stroke="#222" stroke-width="0.9" />
<rect x="389.60" y="105.25" width="19.2" height="42.15" fill="#2f2f2f" stroke="#0a0a0a" stroke-width="0.8"/>
<rect x="437.30" y="48.47" width="19.2" height="98.93" fill="#2f2f2f" stroke="#0a0a0a" stroke-width="0.8"/>
<line x1="446.90" y1="47.08" x2="446.90" y2="48.47" stroke="#222" stroke-width="0.9" />
<line x1="444.10" y1="47.08" x2="449.70" y2="47.08" stroke="#222" stroke-width="0.9" />
<polygon points="393.25,94.13 393.86,95.59 395.44,95.72 394.23,96.75 394.60,98.29 393.25,97.47 391.90,98.29 392.27,96.75 391.06,95.72 392.64,95.59" fill="#0a0a0a" stroke="#0a0a0a" stroke-width="0.3" stroke-linejoin="round"/>
<polygon points="398.20,94.13 398.81,95.59 400.39,95.72 399.18,96.75 399.55,98.29 398.20,97.47 396.85,98.29 397.22,96.75 396.01,95.72 397.59,95.59" fill="#0a0a0a" stroke="#0a0a0a" stroke-width="0.3" stroke-linejoin="round"/>
<polygon points="403.15,94.13 403.76,95.59 405.34,95.72 404.13,96.75 404.50,98.29 403.15,97.47 401.80,98.29 402.17,96.75 400.96,95.72 402.54,95.59" fill="#0a0a0a" stroke="#0a0a0a" stroke-width="0.3" stroke-linejoin="round"/>
<text x="442.6" y="40.2" font-size="6.7" fill="#111" textLength="9.6" lengthAdjust="spacingAndGlyphs">NS</text>
<text transform="translate(292.80,85.00) rotate(-90)" font-size="8.9" text-anchor="middle" fill="#111">IgG binding</text>
<text transform="translate(303.00,85.00) rotate(-90)" font-size="9.0" text-anchor="middle" fill="#111">(Fold above background MFI)</text>
<text x="384.20" y="159.20" font-size="7.6" fill="#111" textLength="29.30" lengthAdjust="spacing">+ F(ab')<tspan font-size="5.2" dy="1.6">2</tspan></text>
<text x="432.10" y="159.20" font-size="7.6" fill="#111" textLength="29.60" lengthAdjust="spacing">+ F(ab')<tspan font-size="5.2" dy="1.6">2</tspan></text>
<text x="381.04" y="168.30" font-size="7.6" fill="#111" font-weight="normal" textLength="36.41" lengthAdjust="spacing">anti-Fc&#947;RI</text>
<text x="425.04" y="168.30" font-size="7.6" fill="#111" font-weight="normal" textLength="42.71" lengthAdjust="spacing">anti-Fc&#947;RIIA</text>
<text x="380.14" y="177.40" font-size="7.6" fill="#111" font-weight="normal" textLength="38.31" lengthAdjust="spacing">mAb (10.1)</text>
<text x="427.54" y="177.40" font-size="7.6" fill="#111" font-weight="normal" textLength="38.41" lengthAdjust="spacing">mAb (8.26)</text>
<line x1="330.80" y1="184.80" x2="470.00" y2="184.80" stroke="#666" stroke-width="1.1" />
<text x="364.1" y="196.5" font-size="8.6" fill="#111" textLength="75" lengthAdjust="spacing">HRG<tspan font-size="5.4" dy="-3.2">P</tspan><tspan dy="3.2"> (100 &#181;g/mL)</tspan></text>
<text x="380.07" y="230.00" font-size="8.8" fill="#111" font-weight="normal" textLength="58.76" lengthAdjust="spacing">pgsA-745 cells</text>
<line x1="298.60" y1="235.50" x2="515.40" y2="235.50" stroke="#555" stroke-width="1.2" />
<text x="303.77" y="249.10" font-size="8.8" fill="#111" font-weight="normal" textLength="55.36" lengthAdjust="spacing">Untransfected</text>
<text x="377.87" y="249.10" font-size="8.8" fill="#111" font-weight="normal" textLength="61.56" lengthAdjust="spacing">Fc&#947;RIIA-arg131</text>
<text x="455.17" y="249.10" font-size="8.8" fill="#111" font-weight="normal" textLength="59.36" lengthAdjust="spacing">Fc&#947;RIIA-his131</text>
<line x1="285.20" y1="259.40" x2="285.20" y2="304.80" stroke="#111" stroke-width="1.3" />
<path d="M282.70,259.90 L285.20,253.30 L287.70,259.90 Z" fill="#111"/>
<text transform="translate(288.30,320.60) rotate(-90)" font-size="9" text-anchor="middle" fill="#111">Events</text>
<text x="292.27" y="342.90" font-size="8.8" fill="#111" font-weight="normal" textLength="31.16" lengthAdjust="spacing">Fc&#947;RIIA</text>
<line x1="324.00" y1="340.20" x2="512.30" y2="340.20" stroke="#111" stroke-width="1.4" />
<path d="M511.80,338.10 L518.80,340.20 L511.80,342.30 Z" fill="#111"/>
<path d="M299.50,324.60 L300.10,322.75 L300.70,320.89 L301.30,319.04 L301.90,315.71 L302.50,311.32 L303.10,306.92 L303.70,302.53 L304.30,297.94 L304.90,293.27 L305.50,288.74 L306.10,284.90 L306.70,281.05 L307.30,277.44 L307.90,273.97 L308.50,271.16 L309.10,268.84 L309.70,270.43 L310.30,274.60 L310.90,282.69 L311.50,291.47 L312.10,299.25 L312.70,306.94 L313.30,313.66 L313.90,318.39 L314.50,320.17 L315.10,321.96 L315.70,323.00 L316.30,323.31 L316.90,323.62 L317.50,323.93 L318.10,324.09 L318.70,324.17 L319.30,324.25 L319.90,324.33 L320.50,324.41 L321.10,324.49 L321.70,324.57 L322.30,324.60 L322.90,324.60 L323.50,324.60 L324.10,324.60 L324.70,324.60 L325.30,324.60 L325.90,324.60 L326.50,324.60 L327.10,324.60 L327.70,324.60 L328.30,324.60 L328.90,324.60 L329.50,324.60 L330.10,324.60 L330.70,324.60 L331.30,324.60 L331.90,324.60 L332.50,324.60 L333.10,324.60 L333.70,324.60 L334.30,324.60 L334.90,324.60 L335.50,324.60 L336.10,324.60 L336.70,324.60 L337.30,324.60 L337.90,324.60 L338.50,324.60 L339.10,324.60 L339.70,324.60 L340.30,324.60 L340.90,324.60 L341.50,324.60 L342.10,324.60 L342.70,324.60 L343.30,324.60 L343.90,324.60 L344.50,324.60 L345.10,324.60 L345.70,324.60 L346.30,324.60 L346.90,324.60 L347.50,324.60 L348.10,324.60 L348.70,324.60 L349.30,324.60 L349.90,324.60 L350.50,324.60 L351.10,324.60 L351.70,324.60 L352.30,324.60 L352.90,324.60 L353.50,324.60 L354.10,324.60 L354.70,324.60 L355.30,324.60 L355.90,324.60 L356.50,324.60 L357.10,324.60 L357.70,324.60 L358.30,324.60 L358.90,324.60 L359.50,324.60 L360.10,324.60 L360.70,324.60 L361.30,324.60 L361.90,324.60 L362.50,324.60 L363.10,324.60 L363.60,324.60 L299.50,324.60 Z" fill="#b8b8b8" stroke="#222" stroke-width="0.8"/>
<path d="M299.50,324.60 L300.30,321.73 L301.10,318.79 L301.90,313.90 L302.70,308.09 L303.50,301.61 L304.30,295.02 L305.10,289.82 L305.90,282.98 L306.70,276.98 L307.50,269.42 L308.30,263.27 L309.10,259.33 L309.90,264.61 L310.70,271.76 L311.50,286.54 L312.30,299.77 L313.10,308.78 L313.90,316.95 L314.70,320.09 L315.50,322.68 L316.30,323.04 L317.10,323.41 L317.90,323.69 L318.70,323.70 L319.50,323.72 L320.30,323.73 L321.10,323.75 L321.90,323.77 L322.70,323.78 L323.50,323.80 L324.30,323.81 L325.10,323.83 L325.90,323.84 L326.70,323.86 L327.50,323.87 L328.30,323.89 L329.10,323.90 L329.90,323.92 L330.70,323.93 L331.50,323.95 L332.30,323.97 L333.10,323.98 L333.90,324.00 L334.70,324.01 L335.50,324.03 L336.30,324.04 L337.10,324.06 L337.90,324.07 L338.70,324.09 L339.50,324.11 L340.30,324.12 L341.10,324.14 L341.90,324.16 L342.70,324.17 L343.50,324.19 L344.30,324.21 L345.10,324.22 L345.90,324.24 L346.70,324.25 L347.50,324.27 L348.30,324.29 L349.10,324.30 L349.90,324.32 L350.70,324.34 L351.50,324.35 L352.30,324.37 L353.10,324.39 L353.90,324.40 L354.70,324.42 L355.50,324.43 L356.30,324.45 L357.10,324.47 L357.90,324.48 L358.70,324.50 L359.50,324.52 L360.30,324.53 L361.10,324.55 L361.90,324.57 L362.70,324.58 L363.50,324.60" fill="none" stroke="#000" stroke-width="1.65" stroke-linejoin="round"/>
<rect x="299.50" y="254.20" width="64.10" height="70.40" fill="none" stroke="#333" stroke-width="0.9"/>
<line x1="297.50" y1="324.60" x2="299.50" y2="324.60" stroke="#444" stroke-width="0.6" />
<line x1="298.30" y1="317.56" x2="299.50" y2="317.56" stroke="#444" stroke-width="0.6" />
<line x1="297.50" y1="310.52" x2="299.50" y2="310.52" stroke="#444" stroke-width="0.6" />
<line x1="298.30" y1="303.48" x2="299.50" y2="303.48" stroke="#444" stroke-width="0.6" />
<line x1="297.50" y1="296.44" x2="299.50" y2="296.44" stroke="#444" stroke-width="0.6" />
<line x1="298.30" y1="289.40" x2="299.50" y2="289.40" stroke="#444" stroke-width="0.6" />
<line x1="297.50" y1="282.36" x2="299.50" y2="282.36" stroke="#444" stroke-width="0.6" />
<line x1="298.30" y1="275.32" x2="299.50" y2="275.32" stroke="#444" stroke-width="0.6" />
<line x1="297.50" y1="268.28" x2="299.50" y2="268.28" stroke="#444" stroke-width="0.6" />
<line x1="298.30" y1="261.24" x2="299.50" y2="261.24" stroke="#444" stroke-width="0.6" />
<line x1="297.50" y1="254.20" x2="299.50" y2="254.20" stroke="#444" stroke-width="0.6" />
<text x="296.90" y="325.80" font-size="3.5" text-anchor="end" font-weight="normal" fill="#555" class="tiny">0</text>
<text x="296.90" y="311.72" font-size="3.5" text-anchor="end" font-weight="normal" fill="#555" class="tiny">20</text>
<text x="296.90" y="297.64" font-size="3.5" text-anchor="end" font-weight="normal" fill="#555" class="tiny">40</text>
<text x="296.90" y="283.56" font-size="3.5" text-anchor="end" font-weight="normal" fill="#555" class="tiny">60</text>
<text x="296.90" y="269.48" font-size="3.5" text-anchor="end" font-weight="normal" fill="#555" class="tiny">80</text>
<text x="296.90" y="255.40" font-size="3.5" text-anchor="end" font-weight="normal" fill="#555" class="tiny">100</text>
<line x1="299.50" y1="324.60" x2="299.50" y2="326.60" stroke="#444" stroke-width="0.6" />
<line x1="304.32" y1="324.60" x2="304.32" y2="325.60" stroke="#aaa" stroke-width="0.4" />
<line x1="307.15" y1="324.60" x2="307.15" y2="325.60" stroke="#aaa" stroke-width="0.4" />
<line x1="309.15" y1="324.60" x2="309.15" y2="325.60" stroke="#aaa" stroke-width="0.4" />
<line x1="310.70" y1="324.60" x2="310.70" y2="325.60" stroke="#aaa" stroke-width="0.4" />
<line x1="311.97" y1="324.60" x2="311.97" y2="325.60" stroke="#aaa" stroke-width="0.4" />
<line x1="313.04" y1="324.60" x2="313.04" y2="325.60" stroke="#aaa" stroke-width="0.4" />
<line x1="313.97" y1="324.60" x2="313.97" y2="325.60" stroke="#aaa" stroke-width="0.4" />
<line x1="314.79" y1="324.60" x2="314.79" y2="325.60" stroke="#aaa" stroke-width="0.4" />
<text x="299.50" y="329.90" font-size="3.5" text-anchor="middle" fill="#555" class="tiny">10<tspan font-size="2.6" dy="-1.3">0</tspan></text>
<line x1="315.52" y1="324.60" x2="315.52" y2="326.60" stroke="#444" stroke-width="0.6" />
<line x1="320.35" y1="324.60" x2="320.35" y2="325.60" stroke="#aaa" stroke-width="0.4" />
<line x1="323.17" y1="324.60" x2="323.17" y2="325.60" stroke="#aaa" stroke-width="0.4" />
<line x1="325.17" y1="324.60" x2="325.17" y2="325.60" stroke="#aaa" stroke-width="0.4" />
<line x1="326.73" y1="324.60" x2="326.73" y2="325.60" stroke="#aaa" stroke-width="0.4" />
<line x1="327.99" y1="324.60" x2="327.99" y2="325.60" stroke="#aaa" stroke-width="0.4" />
<line x1="329.07" y1="324.60" x2="329.07" y2="325.60" stroke="#aaa" stroke-width="0.4" />
<line x1="330.00" y1="324.60" x2="330.00" y2="325.60" stroke="#aaa" stroke-width="0.4" />
<line x1="330.82" y1="324.60" x2="330.82" y2="325.60" stroke="#aaa" stroke-width="0.4" />
<text x="315.52" y="329.90" font-size="3.5" text-anchor="middle" fill="#555" class="tiny">10<tspan font-size="2.6" dy="-1.3">1</tspan></text>
<line x1="331.55" y1="324.60" x2="331.55" y2="326.60" stroke="#444" stroke-width="0.6" />
<line x1="336.37" y1="324.60" x2="336.37" y2="325.60" stroke="#aaa" stroke-width="0.4" />
<line x1="339.20" y1="324.60" x2="339.20" y2="325.60" stroke="#aaa" stroke-width="0.4" />
<line x1="341.20" y1="324.60" x2="341.20" y2="325.60" stroke="#aaa" stroke-width="0.4" />
<line x1="342.75" y1="324.60" x2="342.75" y2="325.60" stroke="#aaa" stroke-width="0.4" />
<line x1="344.02" y1="324.60" x2="344.02" y2="325.60" stroke="#aaa" stroke-width="0.4" />
<line x1="345.09" y1="324.60" x2="345.09" y2="325.60" stroke="#aaa" stroke-width="0.4" />
<line x1="346.02" y1="324.60" x2="346.02" y2="325.60" stroke="#aaa" stroke-width="0.4" />
<line x1="346.84" y1="324.60" x2="346.84" y2="325.60" stroke="#aaa" stroke-width="0.4" />
<text x="331.55" y="329.90" font-size="3.5" text-anchor="middle" fill="#555" class="tiny">10<tspan font-size="2.6" dy="-1.3">2</tspan></text>
<line x1="347.58" y1="324.60" x2="347.58" y2="326.60" stroke="#444" stroke-width="0.6" />
<line x1="352.40" y1="324.60" x2="352.40" y2="325.60" stroke="#aaa" stroke-width="0.4" />
<line x1="355.22" y1="324.60" x2="355.22" y2="325.60" stroke="#aaa" stroke-width="0.4" />
<line x1="357.22" y1="324.60" x2="357.22" y2="325.60" stroke="#aaa" stroke-width="0.4" />
<line x1="358.78" y1="324.60" x2="358.78" y2="325.60" stroke="#aaa" stroke-width="0.4" />
<line x1="360.04" y1="324.60" x2="360.04" y2="325.60" stroke="#aaa" stroke-width="0.4" />
<line x1="361.12" y1="324.60" x2="361.12" y2="325.60" stroke="#aaa" stroke-width="0.4" />
<line x1="362.05" y1="324.60" x2="362.05" y2="325.60" stroke="#aaa" stroke-width="0.4" />
<line x1="362.87" y1="324.60" x2="362.87" y2="325.60" stroke="#aaa" stroke-width="0.4" />
<text x="347.58" y="329.90" font-size="3.5" text-anchor="middle" fill="#555" class="tiny">10<tspan font-size="2.6" dy="-1.3">3</tspan></text>
<line x1="363.60" y1="324.60" x2="363.60" y2="326.60" stroke="#444" stroke-width="0.6" />
<text x="363.60" y="329.90" font-size="3.5" text-anchor="middle" fill="#555" class="tiny">10<tspan font-size="2.6" dy="-1.3">4</tspan></text>
<path d="M376.40,321.08 L377.00,317.97 L377.60,314.70 L378.20,310.78 L378.80,306.85 L379.40,302.93 L380.00,298.28 L380.60,293.42 L381.20,288.57 L381.80,283.87 L382.40,279.43 L383.00,274.99 L383.60,270.55 L384.20,268.17 L384.80,265.86 L385.40,263.55 L386.00,261.25 L386.60,261.65 L387.20,266.38 L387.80,271.57 L388.40,279.44 L389.00,287.31 L389.60,295.54 L390.20,303.80 L390.80,310.13 L391.40,315.01 L392.00,318.64 L392.60,319.78 L393.20,320.92 L393.80,322.05 L394.40,322.56 L395.00,323.02 L395.60,323.49 L396.20,323.95 L396.80,324.28 L397.40,324.38 L398.00,324.48 L398.60,324.57 L399.20,324.60 L399.80,324.60 L400.40,324.60 L401.00,324.60 L401.60,324.60 L402.20,324.60 L402.80,324.60 L403.40,324.60 L404.00,324.60 L404.60,324.60 L405.20,324.60 L405.80,324.60 L406.40,324.60 L407.00,324.60 L407.60,324.60 L408.20,324.60 L408.80,324.60 L409.40,324.60 L410.00,324.60 L410.60,324.60 L411.20,324.60 L411.80,324.60 L412.40,324.60 L413.00,324.60 L413.60,324.60 L414.20,324.60 L414.80,324.60 L415.40,324.60 L416.00,324.60 L416.60,324.60 L417.20,324.60 L417.80,324.60 L418.40,324.60 L419.00,324.60 L419.60,324.60 L420.20,324.60 L420.80,324.60 L421.40,324.60 L422.00,324.60 L422.60,324.60 L423.20,324.60 L423.80,324.60 L424.40,324.60 L425.00,324.60 L425.60,324.60 L426.20,324.60 L426.80,324.60 L427.40,324.60 L428.00,324.60 L428.60,324.60 L429.20,324.60 L429.80,324.60 L430.40,324.60 L431.00,324.60 L431.60,324.60 L432.20,324.60 L432.80,324.60 L433.40,324.60 L434.00,324.60 L434.60,324.60 L435.20,324.60 L435.80,324.60 L436.40,324.60 L437.00,324.60 L437.60,324.60 L438.20,324.60 L438.80,324.60 L439.40,324.60 L440.00,324.60 L440.30,324.60 L376.40,324.60 Z" fill="#b8b8b8" stroke="#222" stroke-width="0.8"/>
<path d="M376.40,324.60 L377.20,324.56 L378.00,324.51 L378.80,324.47 L379.60,324.42 L380.40,324.38 L381.20,324.34 L382.00,324.29 L382.80,324.25 L383.60,324.15 L384.40,324.05 L385.20,323.95 L386.00,323.44 L386.80,322.34 L387.60,321.17 L388.40,319.56 L389.20,318.29 L390.00,316.58 L390.80,313.73 L391.60,312.10 L392.40,309.82 L393.20,310.96 L394.00,312.29 L394.80,313.19 L395.60,313.89 L396.40,315.16 L397.20,315.36 L398.00,316.18 L398.80,315.67 L399.60,316.79 L400.40,315.79 L401.20,315.71 L402.00,314.08 L402.80,312.94 L403.60,311.26 L404.40,308.63 L405.20,308.07 L406.00,305.89 L406.80,301.18 L407.60,299.65 L408.40,297.48 L409.20,289.92 L410.00,283.89 L410.80,279.43 L411.60,272.00 L412.40,266.98 L413.20,263.47 L414.00,260.13 L414.80,261.89 L415.60,268.93 L416.40,281.49 L417.20,299.36 L418.00,311.12 L418.80,319.30 L419.60,321.47 L420.40,323.65 L421.20,323.98 L422.00,324.07 L422.80,324.16 L423.60,324.25 L424.40,324.34 L425.20,324.44 L426.00,324.53 L426.80,324.60 L427.60,324.60 L428.40,324.60 L429.20,324.60 L430.00,324.60 L430.80,324.60 L431.60,324.60 L432.40,324.60 L433.20,324.60 L434.00,324.60 L434.80,324.60 L435.60,324.60 L436.40,324.60 L437.20,324.60 L438.00,324.60 L438.80,324.60 L439.60,324.60" fill="none" stroke="#000" stroke-width="1.65" stroke-linejoin="round"/>
<rect x="376.40" y="254.20" width="63.90" height="70.40" fill="none" stroke="#333" stroke-width="0.9"/>
<line x1="374.40" y1="324.60" x2="376.40" y2="324.60" stroke="#444" stroke-width="0.6" />
<line x1="375.20" y1="317.56" x2="376.40" y2="317.56" stroke="#444" stroke-width="0.6" />
<line x1="374.40" y1="310.52" x2="376.40" y2="310.52" stroke="#444" stroke-width="0.6" />
<line x1="375.20" y1="303.48" x2="376.40" y2="303.48" stroke="#444" stroke-width="0.6" />
<line x1="374.40" y1="296.44" x2="376.40" y2="296.44" stroke="#444" stroke-width="0.6" />
<line x1="375.20" y1="289.40" x2="376.40" y2="289.40" stroke="#444" stroke-width="0.6" />
<line x1="374.40" y1="282.36" x2="376.40" y2="282.36" stroke="#444" stroke-width="0.6" />
<line x1="375.20" y1="275.32" x2="376.40" y2="275.32" stroke="#444" stroke-width="0.6" />
<line x1="374.40" y1="268.28" x2="376.40" y2="268.28" stroke="#444" stroke-width="0.6" />
<line x1="375.20" y1="261.24" x2="376.40" y2="261.24" stroke="#444" stroke-width="0.6" />
<line x1="374.40" y1="254.20" x2="376.40" y2="254.20" stroke="#444" stroke-width="0.6" />
<text x="373.80" y="325.80" font-size="3.5" text-anchor="end" font-weight="normal" fill="#555" class="tiny">0</text>
<text x="373.80" y="311.72" font-size="3.5" text-anchor="end" font-weight="normal" fill="#555" class="tiny">20</text>
<text x="373.80" y="297.64" font-size="3.5" text-anchor="end" font-weight="normal" fill="#555" class="tiny">40</text>
<text x="373.80" y="283.56" font-size="3.5" text-anchor="end" font-weight="normal" fill="#555" class="tiny">60</text>
<text x="373.80" y="269.48" font-size="3.5" text-anchor="end" font-weight="normal" fill="#555" class="tiny">80</text>
<text x="373.80" y="255.40" font-size="3.5" text-anchor="end" font-weight="normal" fill="#555" class="tiny">100</text>
<line x1="376.40" y1="324.60" x2="376.40" y2="326.60" stroke="#444" stroke-width="0.6" />
<line x1="381.21" y1="324.60" x2="381.21" y2="325.60" stroke="#aaa" stroke-width="0.4" />
<line x1="384.02" y1="324.60" x2="384.02" y2="325.60" stroke="#aaa" stroke-width="0.4" />
<line x1="386.02" y1="324.60" x2="386.02" y2="325.60" stroke="#aaa" stroke-width="0.4" />
<line x1="387.57" y1="324.60" x2="387.57" y2="325.60" stroke="#aaa" stroke-width="0.4" />
<line x1="388.83" y1="324.60" x2="388.83" y2="325.60" stroke="#aaa" stroke-width="0.4" />
<line x1="389.90" y1="324.60" x2="389.90" y2="325.60" stroke="#aaa" stroke-width="0.4" />
<line x1="390.83" y1="324.60" x2="390.83" y2="325.60" stroke="#aaa" stroke-width="0.4" />
<line x1="391.64" y1="324.60" x2="391.64" y2="325.60" stroke="#aaa" stroke-width="0.4" />
<text x="376.40" y="329.90" font-size="3.5" text-anchor="middle" fill="#555" class="tiny">10<tspan font-size="2.6" dy="-1.3">0</tspan></text>
<line x1="392.38" y1="324.60" x2="392.38" y2="326.60" stroke="#444" stroke-width="0.6" />
<line x1="397.18" y1="324.60" x2="397.18" y2="325.60" stroke="#aaa" stroke-width="0.4" />
<line x1="400.00" y1="324.60" x2="400.00" y2="325.60" stroke="#aaa" stroke-width="0.4" />
<line x1="401.99" y1="324.60" x2="401.99" y2="325.60" stroke="#aaa" stroke-width="0.4" />
<line x1="403.54" y1="324.60" x2="403.54" y2="325.60" stroke="#aaa" stroke-width="0.4" />
<line x1="404.81" y1="324.60" x2="404.81" y2="325.60" stroke="#aaa" stroke-width="0.4" />
<line x1="405.88" y1="324.60" x2="405.88" y2="325.60" stroke="#aaa" stroke-width="0.4" />
<line x1="406.80" y1="324.60" x2="406.80" y2="325.60" stroke="#aaa" stroke-width="0.4" />
<line x1="407.62" y1="324.60" x2="407.62" y2="325.60" stroke="#aaa" stroke-width="0.4" />
<text x="392.38" y="329.90" font-size="3.5" text-anchor="middle" fill="#555" class="tiny">10<tspan font-size="2.6" dy="-1.3">1</tspan></text>
<line x1="408.35" y1="324.60" x2="408.35" y2="326.60" stroke="#444" stroke-width="0.6" />
<line x1="413.16" y1="324.60" x2="413.16" y2="325.60" stroke="#aaa" stroke-width="0.4" />
<line x1="415.97" y1="324.60" x2="415.97" y2="325.60" stroke="#aaa" stroke-width="0.4" />
<line x1="417.97" y1="324.60" x2="417.97" y2="325.60" stroke="#aaa" stroke-width="0.4" />
<line x1="419.52" y1="324.60" x2="419.52" y2="325.60" stroke="#aaa" stroke-width="0.4" />
<line x1="420.78" y1="324.60" x2="420.78" y2="325.60" stroke="#aaa" stroke-width="0.4" />
<line x1="421.85" y1="324.60" x2="421.85" y2="325.60" stroke="#aaa" stroke-width="0.4" />
<line x1="422.78" y1="324.60" x2="422.78" y2="325.60" stroke="#aaa" stroke-width="0.4" />
<line x1="423.59" y1="324.60" x2="423.59" y2="325.60" stroke="#aaa" stroke-width="0.4" />
<text x="408.35" y="329.90" font-size="3.5" text-anchor="middle" fill="#555" class="tiny">10<tspan font-size="2.6" dy="-1.3">2</tspan></text>
<line x1="424.32" y1="324.60" x2="424.32" y2="326.60" stroke="#444" stroke-width="0.6" />
<line x1="429.13" y1="324.60" x2="429.13" y2="325.60" stroke="#aaa" stroke-width="0.4" />
<line x1="431.95" y1="324.60" x2="431.95" y2="325.60" stroke="#aaa" stroke-width="0.4" />
<line x1="433.94" y1="324.60" x2="433.94" y2="325.60" stroke="#aaa" stroke-width="0.4" />
<line x1="435.49" y1="324.60" x2="435.49" y2="325.60" stroke="#aaa" stroke-width="0.4" />
<line x1="436.76" y1="324.60" x2="436.76" y2="325.60" stroke="#aaa" stroke-width="0.4" />
<line x1="437.83" y1="324.60" x2="437.83" y2="325.60" stroke="#aaa" stroke-width="0.4" />
<line x1="438.75" y1="324.60" x2="438.75" y2="325.60" stroke="#aaa" stroke-width="0.4" />
<line x1="439.57" y1="324.60" x2="439.57" y2="325.60" stroke="#aaa" stroke-width="0.4" />
<text x="424.32" y="329.90" font-size="3.5" text-anchor="middle" fill="#555" class="tiny">10<tspan font-size="2.6" dy="-1.3">3</tspan></text>
<line x1="440.30" y1="324.60" x2="440.30" y2="326.60" stroke="#444" stroke-width="0.6" />
<text x="440.30" y="329.90" font-size="3.5" text-anchor="middle" fill="#555" class="tiny">10<tspan font-size="2.6" dy="-1.3">4</tspan></text>
<path d="M453.70,308.41 L454.30,306.92 L454.90,305.43 L455.50,303.94 L456.10,302.45 L456.70,299.11 L457.30,295.13 L457.90,291.16 L458.50,286.75 L459.10,281.99 L459.70,277.23 L460.30,272.57 L460.90,268.43 L461.50,264.29 L462.10,260.16 L462.70,262.75 L463.30,267.56 L463.90,273.49 L464.50,281.02 L465.10,288.39 L465.70,293.80 L466.30,299.22 L466.90,305.28 L467.50,311.57 L468.10,315.30 L468.70,317.36 L469.30,319.43 L469.90,321.17 L470.50,321.59 L471.10,322.01 L471.70,322.43 L472.30,322.86 L472.90,323.28 L473.50,323.69 L474.10,323.86 L474.70,324.04 L475.30,324.21 L475.90,324.38 L476.50,324.55 L477.10,324.60 L477.70,324.60 L478.30,324.60 L478.90,324.60 L479.50,324.60 L480.10,324.60 L480.70,324.60 L481.30,324.60 L481.90,324.60 L482.50,324.60 L483.10,324.60 L483.70,324.60 L484.30,324.60 L484.90,324.60 L485.50,324.60 L486.10,324.60 L486.70,324.60 L487.30,324.60 L487.90,324.60 L488.50,324.60 L489.10,324.60 L489.70,324.60 L490.30,324.60 L490.90,324.60 L491.50,324.60 L492.10,324.60 L492.70,324.60 L493.30,324.60 L493.90,324.60 L494.50,324.60 L495.10,324.60 L495.70,324.60 L496.30,324.60 L496.90,324.60 L497.50,324.60 L498.10,324.60 L498.70,324.60 L499.30,324.60 L499.90,324.60 L500.50,324.60 L501.10,324.60 L501.70,324.60 L502.30,324.60 L502.90,324.60 L503.50,324.60 L504.10,324.60 L504.70,324.60 L505.30,324.60 L505.90,324.60 L506.50,324.60 L507.10,324.60 L507.70,324.60 L508.30,324.60 L508.90,324.60 L509.50,324.60 L510.10,324.60 L510.70,324.60 L511.30,324.60 L511.90,324.60 L512.50,324.60 L513.10,324.60 L513.70,324.60 L514.30,324.60 L514.90,324.60 L515.50,324.60 L516.10,324.60 L516.70,324.60 L517.30,324.60 L517.50,324.60 L453.70,324.60 Z" fill="#b8b8b8" stroke="#222" stroke-width="0.8"/>
<path d="M453.70,324.60 L454.50,324.57 L455.30,324.53 L456.10,324.50 L456.90,324.47 L457.70,324.43 L458.50,324.40 L459.30,324.27 L460.10,324.09 L460.90,323.90 L461.70,322.88 L462.50,321.93 L463.30,320.74 L464.10,319.54 L464.90,318.09 L465.70,317.34 L466.50,316.50 L467.30,315.88 L468.10,315.23 L468.90,314.21 L469.70,314.55 L470.50,315.00 L471.30,316.43 L472.10,317.14 L472.90,317.29 L473.70,317.22 L474.50,317.25 L475.30,317.50 L476.10,317.00 L476.90,316.85 L477.70,315.86 L478.50,315.20 L479.30,314.29 L480.10,313.01 L480.90,311.10 L481.70,308.71 L482.50,306.96 L483.30,305.79 L484.10,301.83 L484.90,299.96 L485.70,294.60 L486.50,289.87 L487.30,283.63 L488.10,277.34 L488.90,270.73 L489.70,266.19 L490.50,262.28 L491.30,260.58 L492.10,266.74 L492.90,275.63 L493.70,290.93 L494.50,304.19 L495.30,314.14 L496.10,320.26 L496.90,323.24 L497.70,324.56 L498.50,324.60 L499.30,324.60 L500.10,324.60 L500.90,324.60 L501.70,324.60 L502.50,324.60 L503.30,324.60 L504.10,324.60 L504.90,324.60 L505.70,324.60 L506.50,324.60 L507.30,324.60 L508.10,324.60 L508.90,324.60 L509.70,324.60 L510.50,324.60 L511.30,324.60 L512.10,324.60 L512.90,324.60 L513.70,324.60 L514.50,324.60 L515.30,324.60 L516.10,324.60 L516.90,324.60" fill="none" stroke="#000" stroke-width="1.65" stroke-linejoin="round"/>
<rect x="453.70" y="254.20" width="63.80" height="70.40" fill="none" stroke="#333" stroke-width="0.9"/>
<line x1="451.70" y1="324.60" x2="453.70" y2="324.60" stroke="#444" stroke-width="0.6" />
<line x1="452.50" y1="317.56" x2="453.70" y2="317.56" stroke="#444" stroke-width="0.6" />
<line x1="451.70" y1="310.52" x2="453.70" y2="310.52" stroke="#444" stroke-width="0.6" />
<line x1="452.50" y1="303.48" x2="453.70" y2="303.48" stroke="#444" stroke-width="0.6" />
<line x1="451.70" y1="296.44" x2="453.70" y2="296.44" stroke="#444" stroke-width="0.6" />
<line x1="452.50" y1="289.40" x2="453.70" y2="289.40" stroke="#444" stroke-width="0.6" />
<line x1="451.70" y1="282.36" x2="453.70" y2="282.36" stroke="#444" stroke-width="0.6" />
<line x1="452.50" y1="275.32" x2="453.70" y2="275.32" stroke="#444" stroke-width="0.6" />
<line x1="451.70" y1="268.28" x2="453.70" y2="268.28" stroke="#444" stroke-width="0.6" />
<line x1="452.50" y1="261.24" x2="453.70" y2="261.24" stroke="#444" stroke-width="0.6" />
<line x1="451.70" y1="254.20" x2="453.70" y2="254.20" stroke="#444" stroke-width="0.6" />
<text x="451.10" y="325.80" font-size="3.5" text-anchor="end" font-weight="normal" fill="#555" class="tiny">0</text>
<text x="451.10" y="311.72" font-size="3.5" text-anchor="end" font-weight="normal" fill="#555" class="tiny">20</text>
<text x="451.10" y="297.64" font-size="3.5" text-anchor="end" font-weight="normal" fill="#555" class="tiny">40</text>
<text x="451.10" y="283.56" font-size="3.5" text-anchor="end" font-weight="normal" fill="#555" class="tiny">60</text>
<text x="451.10" y="269.48" font-size="3.5" text-anchor="end" font-weight="normal" fill="#555" class="tiny">80</text>
<text x="451.10" y="255.40" font-size="3.5" text-anchor="end" font-weight="normal" fill="#555" class="tiny">100</text>
<line x1="453.70" y1="324.60" x2="453.70" y2="326.60" stroke="#444" stroke-width="0.6" />
<line x1="458.50" y1="324.60" x2="458.50" y2="325.60" stroke="#aaa" stroke-width="0.4" />
<line x1="461.31" y1="324.60" x2="461.31" y2="325.60" stroke="#aaa" stroke-width="0.4" />
<line x1="463.30" y1="324.60" x2="463.30" y2="325.60" stroke="#aaa" stroke-width="0.4" />
<line x1="464.85" y1="324.60" x2="464.85" y2="325.60" stroke="#aaa" stroke-width="0.4" />
<line x1="466.11" y1="324.60" x2="466.11" y2="325.60" stroke="#aaa" stroke-width="0.4" />
<line x1="467.18" y1="324.60" x2="467.18" y2="325.60" stroke="#aaa" stroke-width="0.4" />
<line x1="468.10" y1="324.60" x2="468.10" y2="325.60" stroke="#aaa" stroke-width="0.4" />
<line x1="468.92" y1="324.60" x2="468.92" y2="325.60" stroke="#aaa" stroke-width="0.4" />
<text x="453.70" y="329.90" font-size="3.5" text-anchor="middle" fill="#555" class="tiny">10<tspan font-size="2.6" dy="-1.3">0</tspan></text>
<line x1="469.65" y1="324.60" x2="469.65" y2="326.60" stroke="#444" stroke-width="0.6" />
<line x1="474.45" y1="324.60" x2="474.45" y2="325.60" stroke="#aaa" stroke-width="0.4" />
<line x1="477.26" y1="324.60" x2="477.26" y2="325.60" stroke="#aaa" stroke-width="0.4" />
<line x1="479.25" y1="324.60" x2="479.25" y2="325.60" stroke="#aaa" stroke-width="0.4" />
<line x1="480.80" y1="324.60" x2="480.80" y2="325.60" stroke="#aaa" stroke-width="0.4" />
<line x1="482.06" y1="324.60" x2="482.06" y2="325.60" stroke="#aaa" stroke-width="0.4" />
<line x1="483.13" y1="324.60" x2="483.13" y2="325.60" stroke="#aaa" stroke-width="0.4" />
<line x1="484.05" y1="324.60" x2="484.05" y2="325.60" stroke="#aaa" stroke-width="0.4" />
<line x1="484.87" y1="324.60" x2="484.87" y2="325.60" stroke="#aaa" stroke-width="0.4" />
<text x="469.65" y="329.90" font-size="3.5" text-anchor="middle" fill="#555" class="tiny">10<tspan font-size="2.6" dy="-1.3">1</tspan></text>
<line x1="485.60" y1="324.60" x2="485.60" y2="326.60" stroke="#444" stroke-width="0.6" />
<line x1="490.40" y1="324.60" x2="490.40" y2="325.60" stroke="#aaa" stroke-width="0.4" />
<line x1="493.21" y1="324.60" x2="493.21" y2="325.60" stroke="#aaa" stroke-width="0.4" />
<line x1="495.20" y1="324.60" x2="495.20" y2="325.60" stroke="#aaa" stroke-width="0.4" />
<line x1="496.75" y1="324.60" x2="496.75" y2="325.60" stroke="#aaa" stroke-width="0.4" />
<line x1="498.01" y1="324.60" x2="498.01" y2="325.60" stroke="#aaa" stroke-width="0.4" />
<line x1="499.08" y1="324.60" x2="499.08" y2="325.60" stroke="#aaa" stroke-width="0.4" />
<line x1="500.00" y1="324.60" x2="500.00" y2="325.60" stroke="#aaa" stroke-width="0.4" />
<line x1="500.82" y1="324.60" x2="500.82" y2="325.60" stroke="#aaa" stroke-width="0.4" />
<text x="485.60" y="329.90" font-size="3.5" text-anchor="middle" fill="#555" class="tiny">10<tspan font-size="2.6" dy="-1.3">2</tspan></text>
<line x1="501.55" y1="324.60" x2="501.55" y2="326.60" stroke="#444" stroke-width="0.6" />
<line x1="506.35" y1="324.60" x2="506.35" y2="325.60" stroke="#aaa" stroke-width="0.4" />
<line x1="509.16" y1="324.60" x2="509.16" y2="325.60" stroke="#aaa" stroke-width="0.4" />
<line x1="511.15" y1="324.60" x2="511.15" y2="325.60" stroke="#aaa" stroke-width="0.4" />
<line x1="512.70" y1="324.60" x2="512.70" y2="325.60" stroke="#aaa" stroke-width="0.4" />
<line x1="513.96" y1="324.60" x2="513.96" y2="325.60" stroke="#aaa" stroke-width="0.4" />
<line x1="515.03" y1="324.60" x2="515.03" y2="325.60" stroke="#aaa" stroke-width="0.4" />
<line x1="515.95" y1="324.60" x2="515.95" y2="325.60" stroke="#aaa" stroke-width="0.4" />
<line x1="516.77" y1="324.60" x2="516.77" y2="325.60" stroke="#aaa" stroke-width="0.4" />
<text x="501.55" y="329.90" font-size="3.5" text-anchor="middle" fill="#555" class="tiny">10<tspan font-size="2.6" dy="-1.3">3</tspan></text>
<line x1="517.50" y1="324.60" x2="517.50" y2="326.60" stroke="#444" stroke-width="0.6" />
<text x="517.50" y="329.90" font-size="3.5" text-anchor="middle" fill="#555" class="tiny">10<tspan font-size="2.6" dy="-1.3">4</tspan></text>
<text x="375.77" y="369.80" font-size="8.8" fill="#111" font-weight="normal" textLength="58.96" lengthAdjust="spacing">pgsA-745 cells</text>
<rect x="335.20" y="376.00" width="141.10" height="155.20" fill="none" stroke="#2a2a2a" stroke-width="1.2"/>
<line x1="332.70" y1="531.20" x2="335.20" y2="531.20" stroke="#777" stroke-width="0.8" />
<text x="329.00" y="534.20" font-size="8.4" text-anchor="end" font-weight="normal" fill="#111" letter-spacing="0.3">0</text>
<line x1="332.70" y1="515.68" x2="335.20" y2="515.68" stroke="#777" stroke-width="0.8" />
<text x="329.00" y="518.68" font-size="8.4" text-anchor="end" font-weight="normal" fill="#111" letter-spacing="0.3">0.5</text>
<line x1="332.70" y1="500.16" x2="335.20" y2="500.16" stroke="#777" stroke-width="0.8" />
<text x="329.00" y="503.16" font-size="8.4" text-anchor="end" font-weight="normal" fill="#111" letter-spacing="0.3">1</text>
<line x1="332.70" y1="484.64" x2="335.20" y2="484.64" stroke="#777" stroke-width="0.8" />
<text x="329.00" y="487.64" font-size="8.4" text-anchor="end" font-weight="normal" fill="#111" letter-spacing="0.3">1.5</text>
<line x1="332.70" y1="469.12" x2="335.20" y2="469.12" stroke="#777" stroke-width="0.8" />
<text x="329.00" y="472.12" font-size="8.4" text-anchor="end" font-weight="normal" fill="#111" letter-spacing="0.3">2</text>
<line x1="332.70" y1="453.60" x2="335.20" y2="453.60" stroke="#777" stroke-width="0.8" />
<text x="329.00" y="456.60" font-size="8.4" text-anchor="end" font-weight="normal" fill="#111" letter-spacing="0.3">2.5</text>
<line x1="332.70" y1="438.08" x2="335.20" y2="438.08" stroke="#777" stroke-width="0.8" />
<text x="329.00" y="441.08" font-size="8.4" text-anchor="end" font-weight="normal" fill="#111" letter-spacing="0.3">3</text>
<line x1="332.70" y1="422.56" x2="335.20" y2="422.56" stroke="#777" stroke-width="0.8" />
<text x="329.00" y="425.56" font-size="8.4" text-anchor="end" font-weight="normal" fill="#111" letter-spacing="0.3">3.5</text>
<line x1="332.70" y1="407.04" x2="335.20" y2="407.04" stroke="#777" stroke-width="0.8" />
<text x="329.00" y="410.04" font-size="8.4" text-anchor="end" font-weight="normal" fill="#111" letter-spacing="0.3">4</text>
<line x1="332.70" y1="391.52" x2="335.20" y2="391.52" stroke="#777" stroke-width="0.8" />
<text x="329.00" y="394.52" font-size="8.4" text-anchor="end" font-weight="normal" fill="#111" letter-spacing="0.3">4.5</text>
<line x1="332.70" y1="376.00" x2="335.20" y2="376.00" stroke="#777" stroke-width="0.8" />
<text x="329.00" y="379.00" font-size="8.4" text-anchor="end" font-weight="normal" fill="#111" letter-spacing="0.3">5</text>
<line x1="382.23" y1="531.20" x2="382.23" y2="533.20" stroke="#777" stroke-width="0.8" />
<line x1="429.27" y1="531.20" x2="429.27" y2="533.20" stroke="#777" stroke-width="0.8" />
<rect x="349.00" y="490.23" width="19.2" height="40.97" fill="#2f2f2f" stroke="#0a0a0a" stroke-width="0.8"/>
<line x1="358.60" y1="488.68" x2="358.60" y2="490.23" stroke="#222" stroke-width="0.9" />
<line x1="355.80" y1="488.68" x2="361.40" y2="488.68" stroke="#222" stroke-width="0.9" />
<rect x="396.40" y="468.81" width="19.2" height="62.39" fill="#2f2f2f" stroke="#0a0a0a" stroke-width="0.8"/>
<line x1="406.00" y1="468.19" x2="406.00" y2="468.81" stroke="#222" stroke-width="0.9" />
<line x1="403.20" y1="468.19" x2="408.80" y2="468.19" stroke="#222" stroke-width="0.9" />
<rect x="443.40" y="422.56" width="19.2" height="108.64" fill="#2f2f2f" stroke="#0a0a0a" stroke-width="0.8"/>
<line x1="453.00" y1="416.04" x2="453.00" y2="422.56" stroke="#222" stroke-width="0.9" />
<line x1="450.20" y1="416.04" x2="455.80" y2="416.04" stroke="#222" stroke-width="0.9" />
<path d="M356.6,482.6 L356.6,395.5 L454.7,395.5 L454.7,413.5" fill="none" stroke="#8a8a8a" stroke-width="1.1"/>
<path d="M408.9,462.5 L408.9,409.5 L452.2,409.5 L452.2,413.5" fill="none" stroke="#8a8a8a" stroke-width="1.1"/>
<path d="M361.8,483 L361.8,455.9 L404.5,455.9 L404.5,463" fill="none" stroke="#8a8a8a" stroke-width="1.1"/>
<polygon points="399.20,386.23 399.81,387.69 401.39,387.82 400.18,388.85 400.55,390.39 399.20,389.57 397.85,390.39 398.22,388.85 397.01,387.82 398.59,387.69" fill="#0a0a0a" stroke="#0a0a0a" stroke-width="0.3" stroke-linejoin="round"/>
<polygon points="404.20,386.23 404.81,387.69 406.39,387.82 405.18,388.85 405.55,390.39 404.20,389.57 402.85,390.39 403.22,388.85 402.01,387.82 403.59,387.69" fill="#0a0a0a" stroke="#0a0a0a" stroke-width="0.3" stroke-linejoin="round"/>
<polygon points="409.20,386.23 409.81,387.69 411.39,387.82 410.18,388.85 410.55,390.39 409.20,389.57 407.85,390.39 408.22,388.85 407.01,387.82 408.59,387.69" fill="#0a0a0a" stroke="#0a0a0a" stroke-width="0.3" stroke-linejoin="round"/>
<polygon points="423.10,400.33 423.71,401.79 425.29,401.92 424.08,402.95 424.45,404.49 423.10,403.67 421.75,404.49 422.12,402.95 420.91,401.92 422.49,401.79" fill="#0a0a0a" stroke="#0a0a0a" stroke-width="0.3" stroke-linejoin="round"/>
<polygon points="428.10,400.33 428.71,401.79 430.29,401.92 429.08,402.95 429.45,404.49 428.10,403.67 426.75,404.49 427.12,402.95 425.91,401.92 427.49,401.79" fill="#0a0a0a" stroke="#0a0a0a" stroke-width="0.3" stroke-linejoin="round"/>
<polygon points="433.10,400.33 433.71,401.79 435.29,401.92 434.08,402.95 434.45,404.49 433.10,403.67 431.75,404.49 432.12,402.95 430.91,401.92 432.49,401.79" fill="#0a0a0a" stroke="#0a0a0a" stroke-width="0.3" stroke-linejoin="round"/>
<polygon points="375.90,446.83 376.51,448.29 378.09,448.42 376.88,449.45 377.25,450.99 375.90,450.17 374.55,450.99 374.92,449.45 373.71,448.42 375.29,448.29" fill="#0a0a0a" stroke="#0a0a0a" stroke-width="0.3" stroke-linejoin="round"/>
<polygon points="381.10,446.83 381.71,448.29 383.29,448.42 382.08,449.45 382.45,450.99 381.10,450.17 379.75,450.99 380.12,449.45 378.91,448.42 380.49,448.29" fill="#0a0a0a" stroke="#0a0a0a" stroke-width="0.3" stroke-linejoin="round"/>
<polygon points="386.30,446.83 386.91,448.29 388.49,448.42 387.28,449.45 387.65,450.99 386.30,450.17 384.95,450.99 385.32,449.45 384.11,448.42 385.69,448.29" fill="#0a0a0a" stroke="#0a0a0a" stroke-width="0.3" stroke-linejoin="round"/>
<text transform="translate(297.40,449.80) rotate(-90)" font-size="8.9" text-anchor="middle" fill="#111">IgG binding</text>
<text transform="translate(306.80,449.80) rotate(-90)" font-size="9.0" text-anchor="middle" fill="#111">(Fold above background MFI)</text>
<text x="342.28" y="546.10" font-size="8.7" fill="#111" font-weight="normal" textLength="33.94" lengthAdjust="spacing">Untrans-</text>
<text x="350.98" y="555.50" font-size="8.7" fill="#111" font-weight="normal" textLength="21.24" lengthAdjust="spacing">fected</text>
<text x="391.28" y="546.10" font-size="8.7" fill="#111" font-weight="normal" textLength="30.74" lengthAdjust="spacing">Fc&#947;RIIA</text>
<text x="391.28" y="555.50" font-size="8.7" fill="#111" font-weight="normal" textLength="29.24" lengthAdjust="spacing">-arg131</text>
<text x="435.78" y="546.10" font-size="8.7" fill="#111" font-weight="normal" textLength="31.44" lengthAdjust="spacing">Fc&#947;RIIA</text>
<text x="437.08" y="555.50" font-size="8.7" fill="#111" font-weight="normal" textLength="27.44" lengthAdjust="spacing">-his131</text>
<line x1="342.00" y1="561.70" x2="472.60" y2="561.70" stroke="#666" stroke-width="1.1" />
<text x="371.2" y="573.8" font-size="8.7" fill="#111" textLength="75" lengthAdjust="spacing">HRG<tspan font-size="5.4" dy="-3.2">P</tspan><tspan dy="3.2"> (100 &#181;g/mL)</tspan></text>
</svg>
</body></html>
